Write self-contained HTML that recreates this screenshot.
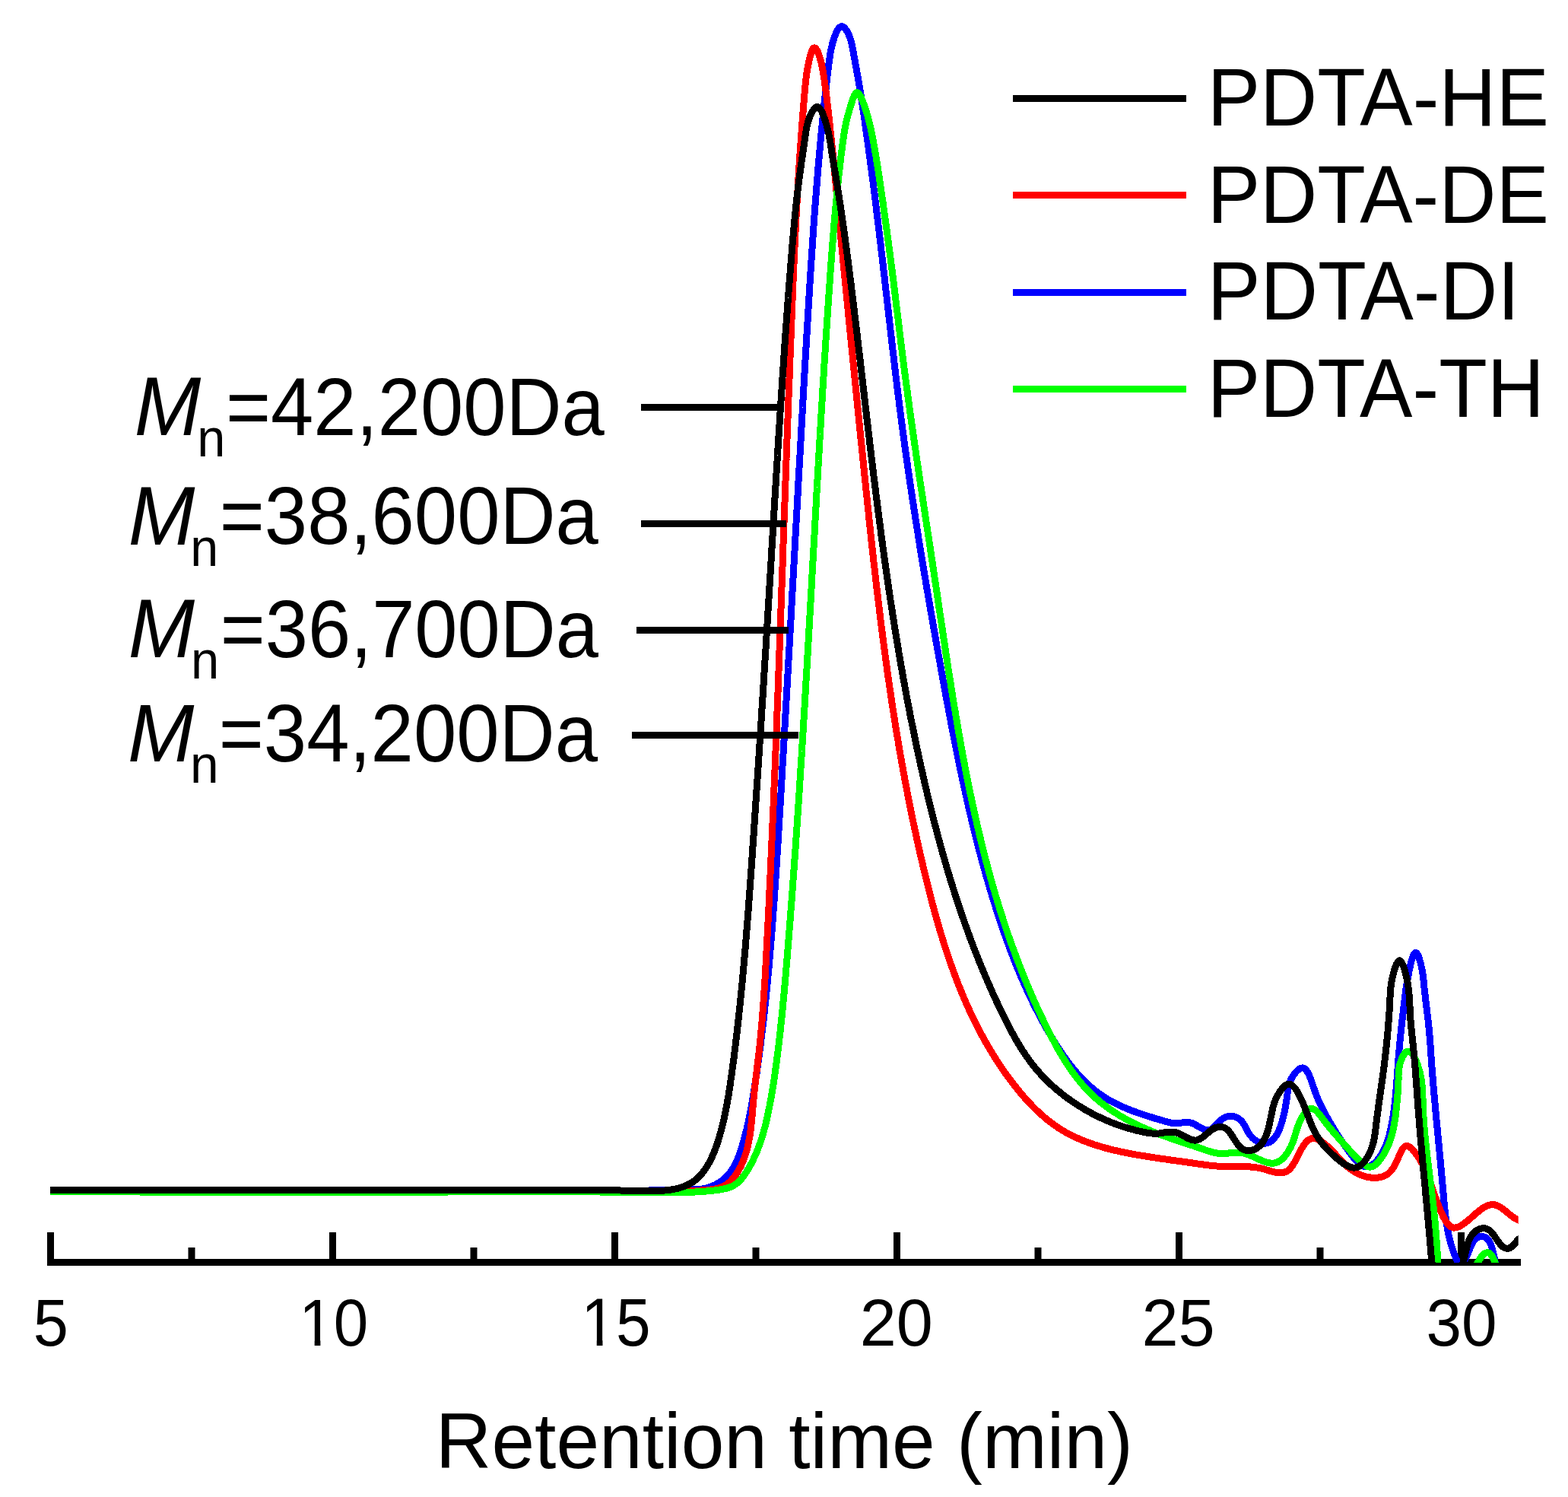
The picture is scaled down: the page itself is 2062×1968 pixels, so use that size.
<!DOCTYPE html>
<html><head><meta charset="utf-8"><title>GPC traces of PDTA samples</title>
<style>
html,body{margin:0;padding:0;background:#fff;}
body{width:2062px;height:1968px;overflow:hidden;}
svg{display:block;}
text{font-family:"Liberation Sans",Arial,Helvetica,sans-serif;fill:#000;}
</style></head><body>
<svg width="2062" height="1968" viewBox="0 0 2062 1968">
<rect x="0" y="0" width="2062" height="1968" fill="#fff"/>
<defs><clipPath id="cp"><rect x="0" y="0" width="1996.7" height="1660"/></clipPath></defs>
<g id="axis" fill="#000">
<rect x="62" y="1655" width="1938" height="9"/>
<rect x="62.0" y="1620" width="9" height="44"/>
<rect x="433.0" y="1620" width="9" height="44"/>
<rect x="804.0" y="1620" width="9" height="44"/>
<rect x="1175.0" y="1620" width="9" height="44"/>
<rect x="1546.0" y="1620" width="9" height="44"/>
<rect x="1917.0" y="1620" width="9" height="44"/>
<rect x="247.5" y="1640" width="9" height="24"/>
<rect x="618.5" y="1640" width="9" height="24"/>
<rect x="989.5" y="1640" width="9" height="24"/>
<rect x="1360.5" y="1640" width="9" height="24"/>
<rect x="1731.5" y="1640" width="9" height="24"/>
</g>
<g id="curves" fill="none" stroke-width="9" stroke-linejoin="round" shape-rendering="crispEdges" clip-path="url(#cp)">
<path d="M66.0 1564.7 L68.5 1564.7 71.0 1564.7 73.5 1564.7 76.0 1564.7 78.5 1564.7 81.0 1564.7 83.5 1564.7 86.0 1564.7 88.5 1564.7 91.0 1564.7 93.5 1564.7 96.0 1564.7 98.5 1564.7 101.0 1564.7 103.5 1564.7 106.0 1564.7 108.5 1564.7 111.0 1564.7 113.5 1564.7 116.0 1564.7 118.5 1564.7 121.0 1564.7 123.5 1564.7 126.0 1564.7 128.5 1564.7 131.0 1564.7 133.5 1564.7 136.0 1564.7 138.5 1564.8 141.0 1564.8 143.5 1564.8 146.0 1564.8 148.5 1564.8 151.0 1564.8 153.5 1564.8 156.0 1564.8 158.5 1564.8 161.0 1564.8 163.5 1564.8 166.0 1564.8 168.5 1564.8 171.0 1564.8 173.5 1564.8 176.0 1564.8 178.5 1564.8 181.0 1564.8 183.5 1564.8 186.0 1564.8 188.5 1564.9 191.0 1564.9 193.5 1564.9 196.0 1564.9 198.5 1564.9 201.0 1564.9 203.5 1564.9 206.0 1564.9 208.5 1564.9 211.0 1564.9 213.5 1564.9 216.0 1564.9 218.5 1564.9 221.0 1564.9 223.5 1564.9 226.0 1564.9 228.5 1564.9 231.0 1564.9 233.5 1565.0 236.0 1565.0 238.5 1565.0 241.0 1565.0 243.5 1565.0 246.0 1565.0 248.5 1565.0 251.0 1565.0 253.5 1565.0 256.0 1565.0 258.5 1565.0 261.0 1565.0 263.5 1565.0 266.0 1565.0 268.5 1565.0 271.0 1565.0 273.5 1565.0 276.0 1565.0 278.5 1565.1 281.0 1565.1 283.5 1565.1 286.0 1565.1 288.5 1565.1 291.0 1565.1 293.5 1565.1 296.0 1565.1 298.5 1565.1 301.0 1565.1 303.5 1565.1 306.0 1565.1 308.5 1565.1 311.0 1565.1 313.5 1565.1 316.0 1565.1 318.5 1565.1 321.0 1565.1 323.5 1565.1 326.0 1565.1 328.5 1565.1 331.0 1565.1 333.5 1565.1 336.0 1565.1 338.5 1565.2 341.0 1565.2 343.5 1565.2 346.0 1565.2 348.5 1565.2 351.0 1565.2 353.5 1565.2 356.0 1565.2 358.5 1565.2 361.0 1565.2 363.5 1565.2 366.0 1565.2 368.5 1565.2 371.0 1565.2 373.5 1565.2 376.0 1565.2 378.5 1565.2 381.0 1565.2 383.5 1565.2 386.0 1565.2 388.5 1565.2 391.0 1565.2 393.5 1565.2 396.0 1565.2 398.5 1565.2 401.0 1565.2 403.5 1565.2 406.0 1565.2 408.5 1565.2 411.0 1565.2 413.5 1565.2 416.0 1565.2 418.5 1565.2 421.0 1565.2 423.5 1565.2 426.0 1565.2 428.5 1565.2 431.0 1565.2 433.5 1565.2 436.0 1565.2 438.5 1565.2 441.0 1565.1 443.5 1565.1 446.0 1565.1 448.5 1565.1 451.0 1565.1 453.5 1565.1 456.0 1565.1 458.5 1565.1 461.0 1565.1 463.5 1565.1 466.0 1565.1 468.5 1565.1 471.0 1565.1 473.5 1565.1 476.0 1565.1 478.5 1565.1 481.0 1565.1 483.5 1565.1 486.0 1565.1 488.5 1565.1 491.0 1565.0 493.5 1565.0 496.0 1565.0 498.5 1565.0 501.0 1565.0 503.5 1565.0 506.0 1565.0 508.5 1565.0 511.0 1565.0 513.5 1565.0 516.0 1565.0 518.5 1565.0 521.0 1565.0 523.5 1565.0 526.0 1565.0 528.5 1565.0 531.0 1565.0 533.5 1564.9 536.0 1564.9 538.5 1564.9 541.0 1564.9 543.5 1564.9 546.0 1564.9 548.5 1564.9 551.0 1564.9 553.5 1564.9 556.0 1564.9 558.5 1564.9 561.0 1564.9 563.5 1564.9 566.0 1564.9 568.5 1564.9 571.0 1564.9 573.5 1564.9 576.0 1564.9 578.5 1564.8 581.0 1564.8 583.5 1564.8 586.0 1564.8 588.5 1564.8 591.0 1564.8 593.5 1564.8 596.0 1564.8 598.5 1564.8 601.0 1564.8 603.5 1564.8 606.0 1564.8 608.5 1564.8 611.0 1564.8 613.5 1564.8 616.0 1564.8 618.5 1564.8 621.0 1564.8 623.5 1564.8 626.0 1564.8 628.5 1564.8 631.0 1564.8 633.5 1564.8 636.0 1564.8 638.5 1564.8 641.0 1564.8 643.5 1564.8 646.0 1564.8 648.5 1564.8 651.0 1564.8 653.5 1564.8 656.0 1564.8 658.5 1564.8 661.0 1564.8 663.5 1564.8 666.0 1564.8 668.5 1564.8 671.0 1564.8 673.5 1564.8 676.0 1564.8 678.5 1564.8 681.0 1564.8 683.5 1564.8 686.0 1564.8 688.5 1564.9 691.0 1564.9 693.5 1564.9 696.0 1564.9 698.5 1564.9 701.0 1564.9 703.5 1564.9 706.0 1564.9 708.5 1564.9 711.0 1564.9 713.5 1564.9 716.0 1565.0 718.5 1565.0 721.0 1565.0 723.5 1565.0 726.0 1565.0 728.5 1565.0 731.0 1565.0 733.5 1565.0 736.0 1565.1 738.5 1565.1 741.0 1565.1 743.5 1565.1 746.0 1565.1 748.5 1565.1 751.0 1565.2 753.5 1565.2 756.0 1565.2 758.5 1565.2 761.0 1565.2 763.5 1565.2 766.0 1565.3 768.5 1565.3 771.0 1565.3 773.5 1565.3 776.0 1565.3 778.5 1565.4 781.0 1565.4 783.5 1565.4 786.0 1565.4 788.5 1565.4 791.0 1565.5 793.5 1565.5 796.0 1565.5 798.5 1565.5 801.0 1565.5 803.5 1565.5 806.0 1565.5 808.5 1565.5 811.0 1565.5 813.5 1565.5 816.0 1565.5 818.5 1565.5 821.0 1565.5 823.5 1565.5 826.0 1565.5 828.5 1565.4 830.9 1565.4 833.4 1565.4 835.9 1565.4 838.4 1565.3 840.9 1565.3 843.4 1565.2 845.8 1565.2 848.3 1565.1 850.8 1565.1 853.3 1565.0 855.8 1564.9 858.2 1564.9 860.7 1564.8 863.2 1564.7 865.7 1564.7 868.1 1564.6 870.6 1564.5 873.1 1564.4 875.6 1564.4 878.1 1564.3 880.6 1564.2 883.1 1564.2 885.6 1564.1 888.1 1564.1 890.7 1564.0 893.2 1564.0 895.8 1563.9 898.3 1563.9 900.9 1563.9 903.4 1563.9 906.0 1563.9 908.6 1563.9 911.2 1563.8 913.7 1563.8 916.3 1563.6 918.8 1563.4 921.3 1563.2 923.8 1562.9 926.3 1562.4 928.7 1561.9 931.1 1561.3 933.4 1560.5 935.8 1559.7 938.0 1558.7 940.2 1557.7 942.4 1556.6 944.5 1555.3 946.6 1554.0 948.6 1552.6 950.5 1551.1 952.4 1549.5 954.2 1547.8 955.9 1546.1 957.6 1544.3 959.2 1542.4 960.7 1540.5 962.1 1538.5 963.5 1536.4 964.8 1534.3 966.0 1532.1 967.1 1529.9 968.2 1527.7 969.2 1525.4 970.2 1523.1 971.1 1520.7 972.0 1518.4 972.8 1516.0 973.6 1513.6 974.4 1511.2 975.2 1508.7 976.0 1506.3 976.7 1503.9 977.4 1501.5 978.1 1499.1 978.8 1496.6 979.4 1494.2 980.1 1491.8 980.7 1489.3 981.3 1486.9 981.9 1484.5 982.5 1482.0 983.0 1479.6 983.6 1477.1 984.1 1474.7 984.7 1472.3 985.2 1469.8 985.7 1467.4 986.2 1464.9 986.6 1462.5 987.1 1460.0 987.6 1457.5 988.0 1455.1 988.5 1452.6 988.9 1450.2 989.3 1447.7 989.7 1445.2 990.1 1442.8 990.6 1440.3 991.0 1437.9 991.3 1435.4 991.7 1432.9 992.1 1430.5 992.5 1428.0 992.9 1425.5 993.2 1423.1 993.6 1420.6 994.0 1418.1 994.3 1415.7 994.7 1413.2 995.1 1410.7 995.4 1408.3 995.8 1405.8 996.1 1403.3 996.5 1400.8 996.8 1398.4 997.2 1395.9 997.5 1393.4 997.8 1391.0 998.2 1388.5 998.5 1386.0 998.8 1383.5 999.1 1381.1 999.5 1378.6 999.8 1376.1 1000.1 1373.6 1000.4 1371.2 1000.7 1368.7 1001.0 1366.2 1001.3 1363.7 1001.6 1361.2 1001.9 1358.8 1002.2 1356.3 1002.5 1353.8 1002.8 1351.3 1003.1 1348.9 1003.4 1346.4 1003.7 1343.9 1004.0 1341.4 1004.3 1338.9 1004.5 1336.4 1004.8 1334.0 1005.1 1331.5 1005.4 1329.0 1005.6 1326.5 1005.9 1324.0 1006.2 1321.6 1006.4 1319.1 1006.7 1316.6 1007.0 1314.1 1007.2 1311.6 1007.5 1309.1 1007.7 1306.6 1008.0 1304.2 1008.2 1301.7 1008.5 1299.2 1008.7 1296.7 1009.0 1294.2 1009.2 1291.7 1009.4 1289.2 1009.7 1286.8 1009.9 1284.3 1010.1 1281.8 1010.4 1279.3 1010.6 1276.8 1010.8 1274.3 1011.1 1271.8 1011.3 1269.3 1011.5 1266.9 1011.7 1264.4 1011.9 1261.9 1012.2 1259.4 1012.4 1256.9 1012.6 1254.4 1012.8 1251.9 1013.0 1249.4 1013.2 1246.9 1013.4 1244.4 1013.6 1241.9 1013.8 1239.5 1014.0 1237.0 1014.2 1234.5 1014.4 1232.0 1014.6 1229.5 1014.8 1227.0 1015.0 1224.5 1015.2 1222.0 1015.4 1219.5 1015.6 1217.0 1015.8 1214.5 1016.0 1212.0 1016.2 1209.5 1016.4 1207.0 1016.6 1204.6 1016.7 1202.1 1016.9 1199.6 1017.1 1197.1 1017.3 1194.6 1017.5 1192.1 1017.6 1189.6 1017.8 1187.1 1018.0 1184.6 1018.2 1182.1 1018.4 1179.6 1018.5 1177.1 1018.7 1174.6 1018.9 1172.1 1019.0 1169.6 1019.2 1167.1 1019.4 1164.6 1019.5 1162.1 1019.7 1159.6 1019.9 1157.1 1020.0 1154.6 1020.2 1152.2 1020.4 1149.7 1020.5 1147.2 1020.7 1144.7 1020.9 1142.2 1021.0 1139.7 1021.2 1137.2 1021.3 1134.7 1021.5 1132.2 1021.7 1129.7 1021.8 1127.2 1022.0 1124.7 1022.1 1122.2 1022.3 1119.7 1022.4 1117.2 1022.6 1114.7 1022.8 1112.2 1022.9 1109.7 1023.1 1107.2 1023.2 1104.7 1023.4 1102.2 1023.5 1099.7 1023.7 1097.2 1023.8 1094.7 1024.0 1092.2 1024.1 1089.7 1024.3 1087.2 1024.4 1084.7 1024.6 1082.2 1024.7 1079.7 1024.9 1077.2 1025.0 1074.7 1025.2 1072.2 1025.3 1069.7 1025.5 1067.2 1025.6 1064.7 1025.8 1062.3 1025.9 1059.8 1026.1 1057.3 1026.2 1054.8 1026.4 1052.3 1026.5 1049.8 1026.7 1047.3 1026.8 1044.8 1027.0 1042.3 1027.1 1039.8 1027.3 1037.3 1027.4 1034.8 1027.6 1032.3 1027.7 1029.8 1027.9 1027.3 1028.0 1024.8 1028.2 1022.3 1028.3 1019.8 1028.5 1017.3 1028.6 1014.8 1028.8 1012.3 1028.9 1009.8 1029.0 1007.3 1029.2 1004.8 1029.3 1002.3 1029.5 999.8 1029.6 997.3 1029.8 994.8 1029.9 992.3 1030.1 989.8 1030.2 987.3 1030.4 984.8 1030.5 982.3 1030.6 979.8 1030.8 977.4 1030.9 974.9 1031.1 972.4 1031.2 969.9 1031.4 967.4 1031.5 964.9 1031.7 962.4 1031.8 959.9 1031.9 957.4 1032.1 954.9 1032.2 952.4 1032.4 949.9 1032.5 947.4 1032.7 944.9 1032.8 942.4 1032.9 939.9 1033.1 937.4 1033.2 934.9 1033.4 932.4 1033.5 929.9 1033.7 927.4 1033.8 924.9 1033.9 922.4 1034.1 919.9 1034.2 917.4 1034.4 914.9 1034.5 912.4 1034.6 909.9 1034.8 907.4 1034.9 905.0 1035.1 902.5 1035.2 900.0 1035.4 897.5 1035.5 895.0 1035.6 892.5 1035.8 890.0 1035.9 887.5 1036.1 885.0 1036.2 882.5 1036.3 880.0 1036.5 877.5 1036.6 875.0 1036.8 872.5 1036.9 870.0 1037.0 867.5 1037.2 865.0 1037.3 862.5 1037.5 860.0 1037.6 857.5 1037.7 855.0 1037.9 852.5 1038.0 850.0 1038.2 847.5 1038.3 845.0 1038.4 842.5 1038.6 840.0 1038.7 837.5 1038.8 835.1 1039.0 832.6 1039.1 830.1 1039.3 827.6 1039.4 825.1 1039.5 822.6 1039.7 820.1 1039.8 817.6 1040.0 815.1 1040.1 812.6 1040.2 810.1 1040.4 807.6 1040.5 805.1 1040.7 802.6 1040.8 800.1 1040.9 797.6 1041.1 795.1 1041.2 792.6 1041.3 790.1 1041.5 787.6 1041.6 785.1 1041.8 782.6 1041.9 780.1 1042.0 777.6 1042.2 775.1 1042.3 772.6 1042.4 770.2 1042.6 767.7 1042.7 765.2 1042.9 762.7 1043.0 760.2 1043.1 757.7 1043.3 755.2 1043.4 752.7 1043.6 750.2 1043.7 747.7 1043.8 745.2 1044.0 742.7 1044.1 740.2 1044.2 737.7 1044.4 735.2 1044.5 732.7 1044.7 730.2 1044.8 727.7 1044.9 725.2 1045.1 722.7 1045.2 720.2 1045.3 717.7 1045.5 715.2 1045.6 712.7 1045.8 710.2 1045.9 707.8 1046.0 705.3 1046.2 702.8 1046.3 700.3 1046.4 697.8 1046.6 695.3 1046.7 692.8 1046.9 690.3 1047.0 687.8 1047.1 685.3 1047.3 682.8 1047.4 680.3 1047.5 677.8 1047.7 675.3 1047.8 672.8 1048.0 670.3 1048.1 667.8 1048.2 665.3 1048.4 662.8 1048.5 660.3 1048.6 657.8 1048.8 655.3 1048.9 652.8 1049.1 650.3 1049.2 647.9 1049.3 645.4 1049.5 642.9 1049.6 640.4 1049.8 637.9 1049.9 635.4 1050.0 632.9 1050.2 630.4 1050.3 627.9 1050.4 625.4 1050.6 622.9 1050.7 620.4 1050.9 617.9 1051.0 615.4 1051.1 612.9 1051.3 610.4 1051.4 607.9 1051.6 605.4 1051.7 602.9 1051.8 600.4 1052.0 597.9 1052.1 595.4 1052.3 592.9 1052.4 590.4 1052.5 587.9 1052.7 585.5 1052.8 583.0 1053.0 580.5 1053.1 578.0 1053.2 575.5 1053.4 573.0 1053.5 570.5 1053.7 568.0 1053.8 565.5 1053.9 563.0 1054.1 560.5 1054.2 558.0 1054.4 555.5 1054.5 553.0 1054.6 550.5 1054.8 548.0 1054.9 545.5 1055.1 543.0 1055.2 540.5 1055.3 538.0 1055.5 535.5 1055.6 533.0 1055.8 530.5 1055.9 528.0 1056.0 525.5 1056.2 523.0 1056.3 520.6 1056.5 518.1 1056.6 515.6 1056.8 513.1 1056.9 510.6 1057.0 508.1 1057.2 505.6 1057.3 503.1 1057.5 500.6 1057.6 498.1 1057.8 495.6 1057.9 493.1 1058.0 490.6 1058.2 488.1 1058.3 485.6 1058.5 483.1 1058.6 480.6 1058.8 478.1 1058.9 475.6 1059.0 473.1 1059.2 470.6 1059.3 468.1 1059.5 465.6 1059.6 463.1 1059.8 460.6 1059.9 458.1 1060.1 455.7 1060.2 453.2 1060.4 450.7 1060.5 448.2 1060.6 445.7 1060.8 443.2 1060.9 440.7 1061.1 438.2 1061.2 435.7 1061.4 433.2 1061.5 430.7 1061.7 428.2 1061.8 425.7 1062.0 423.2 1062.1 420.7 1062.3 418.2 1062.4 415.7 1062.6 413.2 1062.7 410.7 1062.9 408.2 1063.0 405.7 1063.2 403.2 1063.3 400.7 1063.5 398.2 1063.6 395.7 1063.8 393.2 1063.9 390.7 1064.1 388.3 1064.2 385.8 1064.4 383.3 1064.5 380.8 1064.7 378.3 1064.8 375.8 1065.0 373.3 1065.1 370.8 1065.3 368.3 1065.5 365.8 1065.6 363.3 1065.8 360.8 1065.9 358.3 1066.1 355.8 1066.2 353.3 1066.4 350.8 1066.6 348.3 1066.7 345.8 1066.9 343.3 1067.1 340.8 1067.2 338.3 1067.4 335.8 1067.6 333.3 1067.7 330.8 1067.9 328.4 1068.1 325.9 1068.2 323.4 1068.4 320.9 1068.6 318.4 1068.7 315.9 1068.9 313.4 1069.1 310.9 1069.2 308.4 1069.4 305.9 1069.6 303.4 1069.8 300.9 1069.9 298.4 1070.1 295.9 1070.3 293.4 1070.5 290.9 1070.7 288.4 1070.8 285.9 1071.0 283.4 1071.2 281.0 1071.4 278.5 1071.6 276.0 1071.8 273.5 1071.9 271.0 1072.1 268.5 1072.3 266.0 1072.5 263.5 1072.7 261.0 1072.9 258.5 1073.1 256.0 1073.3 253.5 1073.5 251.0 1073.7 248.5 1073.9 246.0 1074.1 243.6 1074.3 241.1 1074.5 238.6 1074.7 236.1 1074.9 233.6 1075.1 231.1 1075.3 228.6 1075.5 226.1 1075.7 223.6 1075.9 221.1 1076.1 218.6 1076.3 216.1 1076.6 213.6 1076.8 211.2 1077.0 208.7 1077.2 206.2 1077.4 203.7 1077.7 201.2 1077.9 198.7 1078.1 196.2 1078.3 193.7 1078.5 191.2 1078.8 188.7 1079.0 186.2 1079.2 183.8 1079.5 181.3 1079.7 178.8 1079.9 176.3 1080.2 173.8 1080.4 171.3 1080.7 168.8 1080.9 166.3 1081.1 163.8 1081.4 161.3 1081.6 158.9 1081.9 156.4 1082.1 153.9 1082.4 151.4 1082.6 148.9 1082.9 146.4 1083.1 143.9 1083.4 141.4 1083.7 138.9 1083.9 136.5 1084.2 134.0 1084.4 131.5 1084.7 129.0 1085.0 126.5 1085.2 124.0 1085.5 121.5 1085.8 119.1 1086.1 116.6 1086.3 114.1 1086.6 111.6 1086.9 109.1 1087.2 106.7 1087.5 104.2 1087.8 101.7 1088.1 99.3 1088.4 96.8 1088.7 94.3 1089.0 91.9 1089.3 89.4 1089.6 87.0 1089.9 84.5 1090.2 82.1 1090.6 79.7 1090.9 77.2 1091.2 74.8 1091.6 72.4 1092.0 69.9 1092.4 67.4 1092.9 64.9 1093.5 62.4 1094.1 59.8 1094.7 57.2 1095.5 54.6 1096.3 51.9 1097.2 49.1 1098.3 46.3 1099.4 43.6 1100.6 41.0 1101.9 38.7 1103.3 36.8 1104.7 35.5 1106.2 34.8 1107.8 34.8 1109.3 35.6 1110.9 37.0 1112.4 38.9 1113.9 41.1 1115.3 43.7 1116.5 46.4 1117.6 49.2 1118.5 51.9 1119.3 54.6 1120.0 57.3 1120.5 59.9 1121.0 62.5 1121.5 65.1 1122.0 67.7 1122.4 70.2 1122.9 72.7 1123.3 75.2 1123.8 77.7 1124.3 80.1 1124.7 82.5 1125.2 85.0 1125.6 87.4 1126.0 89.8 1126.5 92.2 1126.9 94.6 1127.3 97.0 1127.8 99.4 1128.2 101.8 1128.6 104.2 1129.0 106.7 1129.4 109.1 1129.9 111.5 1130.3 114.0 1130.7 116.4 1131.1 118.9 1131.5 121.3 1131.9 123.8 1132.2 126.2 1132.6 128.7 1133.0 131.2 1133.4 133.6 1133.8 136.1 1134.1 138.6 1134.5 141.1 1134.9 143.6 1135.3 146.0 1135.6 148.5 1136.0 151.0 1136.3 153.5 1136.7 156.0 1137.1 158.5 1137.4 161.0 1137.8 163.5 1138.1 166.0 1138.5 168.5 1138.8 171.0 1139.2 173.4 1139.5 175.9 1139.9 178.4 1140.2 180.9 1140.6 183.4 1140.9 185.9 1141.2 188.4 1141.6 190.9 1141.9 193.3 1142.3 195.8 1142.6 198.3 1142.9 200.8 1143.3 203.3 1143.6 205.7 1143.9 208.2 1144.3 210.7 1144.6 213.2 1144.9 215.7 1145.3 218.1 1145.6 220.6 1145.9 223.1 1146.2 225.6 1146.6 228.0 1146.9 230.5 1147.2 233.0 1147.5 235.5 1147.9 237.9 1148.2 240.4 1148.5 242.9 1148.8 245.4 1149.1 247.8 1149.4 250.3 1149.8 252.8 1150.1 255.3 1150.4 257.7 1150.7 260.2 1151.0 262.7 1151.3 265.2 1151.6 267.7 1151.9 270.1 1152.2 272.6 1152.5 275.1 1152.8 277.6 1153.1 280.0 1153.4 282.5 1153.7 285.0 1154.0 287.5 1154.3 290.0 1154.6 292.4 1154.9 294.9 1155.2 297.4 1155.5 299.9 1155.8 302.4 1156.1 304.8 1156.4 307.3 1156.7 309.8 1157.0 312.3 1157.3 314.8 1157.6 317.3 1157.9 319.7 1158.2 322.2 1158.5 324.7 1158.8 327.2 1159.0 329.7 1159.3 332.1 1159.6 334.6 1159.9 337.1 1160.2 339.6 1160.5 342.1 1160.8 344.6 1161.1 347.0 1161.3 349.5 1161.6 352.0 1161.9 354.5 1162.2 357.0 1162.5 359.5 1162.8 362.0 1163.1 364.4 1163.3 366.9 1163.6 369.4 1163.9 371.9 1164.2 374.4 1164.5 376.9 1164.8 379.3 1165.0 381.8 1165.3 384.3 1165.6 386.8 1165.9 389.3 1166.2 391.8 1166.5 394.3 1166.7 396.7 1167.0 399.2 1167.3 401.7 1167.6 404.2 1167.9 406.7 1168.2 409.2 1168.4 411.7 1168.7 414.1 1169.0 416.6 1169.3 419.1 1169.6 421.6 1169.9 424.1 1170.2 426.6 1170.4 429.1 1170.7 431.5 1171.0 434.0 1171.3 436.5 1171.6 439.0 1171.9 441.5 1172.2 444.0 1172.4 446.5 1172.7 448.9 1173.0 451.4 1173.3 453.9 1173.6 456.4 1173.9 458.9 1174.2 461.4 1174.5 463.9 1174.8 466.3 1175.1 468.8 1175.3 471.3 1175.6 473.8 1175.9 476.3 1176.2 478.8 1176.5 481.3 1176.8 483.7 1177.1 486.2 1177.4 488.7 1177.7 491.2 1178.0 493.7 1178.3 496.2 1178.6 498.6 1178.9 501.1 1179.2 503.6 1179.5 506.1 1179.8 508.6 1180.1 511.1 1180.4 513.5 1180.7 516.0 1181.0 518.5 1181.3 521.0 1181.7 523.5 1182.0 526.0 1182.3 528.4 1182.6 530.9 1182.9 533.4 1183.2 535.9 1183.5 538.4 1183.8 540.8 1184.2 543.3 1184.5 545.8 1184.8 548.3 1185.1 550.8 1185.4 553.2 1185.8 555.7 1186.1 558.2 1186.4 560.7 1186.8 563.2 1187.1 565.6 1187.4 568.1 1187.7 570.6 1188.1 573.1 1188.4 575.5 1188.7 578.0 1189.1 580.5 1189.4 583.0 1189.8 585.5 1190.1 587.9 1190.4 590.4 1190.8 592.9 1191.1 595.4 1191.5 597.8 1191.8 600.3 1192.2 602.8 1192.5 605.3 1192.9 607.7 1193.2 610.2 1193.6 612.7 1193.9 615.2 1194.3 617.6 1194.6 620.1 1195.0 622.6 1195.4 625.1 1195.7 627.5 1196.1 630.0 1196.4 632.5 1196.8 634.9 1197.2 637.4 1197.5 639.9 1197.9 642.4 1198.3 644.8 1198.6 647.3 1199.0 649.8 1199.4 652.2 1199.8 654.7 1200.1 657.2 1200.5 659.7 1200.9 662.1 1201.3 664.6 1201.6 667.1 1202.0 669.5 1202.4 672.0 1202.8 674.5 1203.2 676.9 1203.6 679.4 1203.9 681.9 1204.3 684.4 1204.7 686.8 1205.1 689.3 1205.5 691.8 1205.9 694.2 1206.3 696.7 1206.7 699.2 1207.1 701.6 1207.4 704.1 1207.8 706.6 1208.2 709.0 1208.6 711.5 1209.0 714.0 1209.4 716.4 1209.8 718.9 1210.2 721.4 1210.6 723.8 1211.0 726.3 1211.4 728.8 1211.8 731.2 1212.2 733.7 1212.6 736.2 1213.1 738.6 1213.5 741.1 1213.9 743.6 1214.3 746.0 1214.7 748.5 1215.1 751.0 1215.5 753.4 1215.9 755.9 1216.3 758.4 1216.8 760.8 1217.2 763.3 1217.6 765.7 1218.0 768.2 1218.4 770.7 1218.8 773.1 1219.3 775.6 1219.7 778.1 1220.1 780.5 1220.5 783.0 1220.9 785.5 1221.4 787.9 1221.8 790.4 1222.2 792.9 1222.6 795.3 1223.1 797.8 1223.5 800.2 1223.9 802.7 1224.3 805.2 1224.8 807.6 1225.2 810.1 1225.6 812.6 1226.1 815.0 1226.5 817.5 1226.9 819.9 1227.4 822.4 1227.8 824.9 1228.2 827.3 1228.7 829.8 1229.1 832.3 1229.5 834.7 1230.0 837.2 1230.4 839.6 1230.8 842.1 1231.3 844.6 1231.7 847.0 1232.1 849.5 1232.6 852.0 1233.0 854.4 1233.5 856.9 1233.9 859.3 1234.3 861.8 1234.8 864.3 1235.2 866.7 1235.7 869.2 1236.1 871.7 1236.6 874.1 1237.0 876.6 1237.5 879.0 1237.9 881.5 1238.3 884.0 1238.8 886.4 1239.2 888.9 1239.7 891.4 1240.1 893.8 1240.6 896.3 1241.0 898.7 1241.5 901.2 1241.9 903.7 1242.4 906.1 1242.8 908.6 1243.3 911.0 1243.7 913.5 1244.2 916.0 1244.7 918.4 1245.1 920.9 1245.6 923.4 1246.0 925.8 1246.5 928.3 1247.0 930.7 1247.4 933.2 1247.9 935.7 1248.3 938.1 1248.8 940.6 1249.3 943.0 1249.7 945.5 1250.2 947.9 1250.7 950.4 1251.1 952.9 1251.6 955.3 1252.1 957.8 1252.6 960.2 1253.0 962.7 1253.5 965.1 1254.0 967.6 1254.5 970.1 1255.0 972.5 1255.5 975.0 1255.9 977.4 1256.4 979.9 1256.9 982.3 1257.4 984.8 1257.9 987.2 1258.4 989.7 1258.9 992.1 1259.4 994.6 1259.9 997.0 1260.4 999.5 1260.9 1001.9 1261.4 1004.4 1261.9 1006.8 1262.4 1009.3 1262.9 1011.7 1263.5 1014.2 1264.0 1016.6 1264.5 1019.1 1265.0 1021.5 1265.5 1024.0 1266.1 1026.4 1266.6 1028.9 1267.1 1031.3 1267.6 1033.8 1268.2 1036.2 1268.7 1038.6 1269.3 1041.1 1269.8 1043.5 1270.3 1046.0 1270.9 1048.4 1271.4 1050.8 1272.0 1053.3 1272.5 1055.7 1273.1 1058.1 1273.7 1060.6 1274.2 1063.0 1274.8 1065.5 1275.4 1067.9 1275.9 1070.3 1276.5 1072.7 1277.1 1075.2 1277.7 1077.6 1278.2 1080.0 1278.8 1082.5 1279.4 1084.9 1280.0 1087.3 1280.6 1089.8 1281.2 1092.2 1281.8 1094.6 1282.4 1097.0 1283.0 1099.4 1283.6 1101.9 1284.2 1104.3 1284.8 1106.7 1285.5 1109.1 1286.1 1111.6 1286.7 1114.0 1287.3 1116.4 1288.0 1118.8 1288.6 1121.2 1289.2 1123.6 1289.9 1126.0 1290.5 1128.5 1291.2 1130.9 1291.8 1133.3 1292.5 1135.7 1293.2 1138.1 1293.8 1140.5 1294.5 1142.9 1295.2 1145.3 1295.8 1147.7 1296.5 1150.1 1297.2 1152.5 1297.9 1154.9 1298.6 1157.3 1299.3 1159.7 1300.0 1162.1 1300.7 1164.5 1301.4 1166.9 1302.1 1169.3 1302.8 1171.7 1303.5 1174.1 1304.3 1176.5 1305.0 1178.9 1305.7 1181.2 1306.5 1183.6 1307.2 1186.0 1308.0 1188.4 1308.7 1190.8 1309.5 1193.2 1310.2 1195.5 1311.0 1197.9 1311.8 1200.3 1312.5 1202.7 1313.3 1205.0 1314.1 1207.4 1314.9 1209.8 1315.7 1212.2 1316.5 1214.5 1317.3 1216.9 1318.1 1219.3 1318.9 1221.6 1319.7 1224.0 1320.5 1226.4 1321.3 1228.7 1322.2 1231.1 1323.0 1233.4 1323.9 1235.8 1324.7 1238.1 1325.6 1240.5 1326.4 1242.8 1327.3 1245.2 1328.2 1247.5 1329.0 1249.8 1329.9 1252.2 1330.8 1254.5 1331.7 1256.8 1332.6 1259.2 1333.5 1261.5 1334.4 1263.8 1335.4 1266.1 1336.3 1268.5 1337.2 1270.8 1338.2 1273.1 1339.1 1275.4 1340.1 1277.7 1341.1 1280.0 1342.0 1282.3 1343.0 1284.6 1344.0 1286.9 1345.0 1289.2 1346.0 1291.5 1347.0 1293.8 1348.0 1296.0 1349.0 1298.3 1350.1 1300.6 1351.1 1302.9 1352.2 1305.1 1353.2 1307.4 1354.3 1309.7 1355.3 1311.9 1356.4 1314.2 1357.5 1316.4 1358.6 1318.7 1359.7 1320.9 1360.8 1323.1 1362.0 1325.4 1363.1 1327.6 1364.2 1329.8 1365.4 1332.0 1366.5 1334.3 1367.7 1336.5 1368.9 1338.7 1370.1 1340.9 1371.3 1343.1 1372.5 1345.3 1373.7 1347.5 1374.9 1349.6 1376.1 1351.8 1377.4 1354.0 1378.6 1356.2 1379.9 1358.3 1381.2 1360.5 1382.4 1362.7 1383.7 1364.8 1385.0 1367.0 1386.4 1369.1 1387.7 1371.2 1389.0 1373.4 1390.4 1375.5 1391.7 1377.6 1393.1 1379.7 1394.5 1381.8 1395.9 1383.9 1397.3 1385.9 1398.7 1388.0 1400.1 1390.1 1401.6 1392.1 1403.1 1394.1 1404.5 1396.1 1406.0 1398.1 1407.6 1400.1 1409.1 1402.1 1410.6 1404.0 1412.2 1405.9 1413.8 1407.9 1415.4 1409.7 1417.0 1411.6 1418.7 1413.5 1420.4 1415.3 1422.0 1417.1 1423.8 1418.9 1425.5 1420.6 1427.2 1422.4 1429.0 1424.1 1430.8 1425.8 1432.6 1427.4 1434.5 1429.0 1436.4 1430.6 1438.3 1432.2 1440.2 1433.8 1442.1 1435.3 1444.1 1436.8 1446.1 1438.2 1448.1 1439.6 1450.2 1441.0 1452.3 1442.4 1454.4 1443.7 1456.5 1445.0 1458.7 1446.2 1460.8 1447.5 1463.1 1448.6 1465.3 1449.8 1467.5 1450.9 1469.8 1452.1 1472.1 1453.1 1474.4 1454.2 1476.7 1455.2 1479.0 1456.2 1481.4 1457.2 1483.7 1458.2 1486.1 1459.1 1488.5 1460.1 1490.9 1461.0 1493.3 1461.8 1495.7 1462.7 1498.1 1463.5 1500.5 1464.4 1502.9 1465.2 1505.3 1466.0 1507.8 1466.8 1510.2 1467.5 1512.6 1468.3 1515.0 1469.0 1517.4 1469.8 1519.8 1470.5 1522.3 1471.2 1524.6 1471.9 1527.0 1472.6 1529.4 1473.3 1531.8 1474.0 1534.1 1474.7 1536.5 1475.3 1538.9 1475.9 1541.2 1476.4 1543.6 1476.7 1546.0 1476.9 1548.4 1476.8 1550.9 1476.5 1553.4 1476.1 1555.9 1475.7 1558.4 1475.4 1560.9 1475.2 1563.3 1475.4 1565.8 1476.0 1568.2 1476.8 1570.6 1477.9 1572.9 1479.2 1575.3 1480.5 1577.6 1481.9 1579.9 1483.1 1582.2 1484.2 1584.5 1485.0 1586.8 1485.5 1589.0 1485.6 1591.1 1485.2 1593.2 1484.3 1595.2 1482.9 1597.1 1481.2 1599.0 1479.2 1601.0 1477.1 1602.9 1475.1 1604.9 1473.1 1607.0 1471.4 1609.2 1469.9 1611.4 1468.8 1613.6 1468.0 1615.9 1467.5 1618.1 1467.2 1620.4 1467.3 1622.6 1467.7 1624.8 1468.4 1626.9 1469.4 1629.0 1470.6 1630.9 1472.2 1632.8 1474.0 1634.4 1476.1 1636.0 1478.5 1637.5 1481.1 1638.9 1483.8 1640.3 1486.4 1641.8 1489.1 1643.4 1491.6 1645.2 1493.8 1647.1 1495.8 1649.1 1497.6 1651.2 1499.2 1653.3 1500.5 1655.5 1501.5 1657.7 1502.3 1659.9 1502.8 1662.0 1503.1 1664.0 1503.1 1665.9 1502.8 1667.8 1502.3 1669.5 1501.5 1671.2 1500.5 1672.8 1499.2 1674.3 1497.8 1675.8 1496.2 1677.2 1494.4 1678.5 1492.5 1679.7 1490.4 1680.9 1488.1 1682.0 1485.7 1683.0 1483.3 1684.0 1480.7 1684.9 1478.0 1685.8 1475.3 1686.6 1472.5 1687.3 1469.6 1688.0 1466.8 1688.7 1463.8 1689.3 1460.9 1689.9 1458.0 1690.4 1455.1 1690.9 1452.3 1691.4 1449.4 1691.8 1446.7 1692.2 1444.0 1692.6 1441.4 1692.9 1438.8 1693.2 1436.4 1693.5 1434.1 1693.9 1431.8 1694.3 1429.6 1694.7 1427.5 1695.3 1425.3 1696.0 1423.2 1696.8 1421.0 1697.8 1418.9 1699.0 1416.6 1700.4 1414.4 1702.0 1412.1 1703.8 1409.9 1705.7 1407.8 1707.6 1406.1 1709.5 1404.8 1711.3 1404.1 1713.1 1403.9 1714.7 1404.4 1716.3 1405.4 1717.7 1406.8 1719.0 1408.6 1720.3 1410.8 1721.5 1413.3 1722.7 1416.0 1723.8 1418.9 1724.9 1421.9 1725.9 1424.9 1726.9 1428.0 1727.9 1430.9 1728.9 1433.8 1729.9 1436.5 1730.8 1439.1 1731.8 1441.6 1732.8 1444.0 1733.8 1446.3 1734.8 1448.5 1735.8 1450.7 1736.8 1452.8 1737.8 1454.9 1738.8 1456.9 1739.8 1458.9 1740.9 1460.9 1741.9 1462.9 1743.0 1464.9 1744.1 1466.9 1745.2 1468.9 1746.3 1470.9 1747.5 1473.0 1748.6 1475.0 1749.8 1477.0 1751.0 1479.1 1752.3 1481.1 1753.5 1483.2 1754.8 1485.3 1756.1 1487.4 1757.4 1489.5 1758.7 1491.6 1760.1 1493.7 1761.5 1495.8 1762.9 1498.0 1764.4 1500.2 1765.9 1502.3 1767.4 1504.5 1768.9 1506.7 1770.5 1508.9 1772.1 1511.2 1773.7 1513.4 1775.4 1515.7 1777.1 1518.0 1778.8 1520.2 1780.6 1522.5 1782.4 1524.6 1784.2 1526.6 1786.0 1528.4 1787.9 1530.1 1789.8 1531.5 1791.7 1532.6 1793.6 1533.4 1795.5 1533.9 1797.4 1534.0 1799.4 1533.7 1801.3 1533.1 1803.2 1532.1 1805.1 1530.9 1807.0 1529.5 1808.8 1527.8 1810.5 1526.0 1812.1 1524.0 1813.7 1522.0 1815.2 1519.8 1816.6 1517.7 1817.9 1515.5 1819.1 1513.2 1820.3 1511.0 1821.3 1508.7 1822.3 1506.3 1823.3 1503.9 1824.1 1501.6 1824.9 1499.1 1825.7 1496.7 1826.4 1494.3 1827.1 1491.8 1827.7 1489.3 1828.3 1486.9 1828.8 1484.4 1829.4 1481.9 1829.9 1479.4 1830.3 1477.0 1830.8 1474.5 1831.2 1472.0 1831.6 1469.6 1832.0 1467.1 1832.4 1464.7 1832.8 1462.2 1833.1 1459.7 1833.4 1457.3 1833.7 1454.8 1834.0 1452.4 1834.3 1449.9 1834.6 1447.5 1834.8 1445.0 1835.1 1442.6 1835.3 1440.1 1835.5 1437.6 1835.8 1435.2 1836.0 1432.7 1836.2 1430.3 1836.4 1427.8 1836.5 1425.3 1836.7 1422.9 1836.9 1420.4 1837.1 1417.9 1837.3 1415.4 1837.4 1413.0 1837.6 1410.5 1837.8 1408.0 1838.0 1405.5 1838.1 1403.0 1838.3 1400.5 1838.5 1398.0 1838.7 1395.4 1838.9 1392.9 1839.1 1390.4 1839.3 1387.9 1839.5 1385.3 1839.7 1382.8 1840.0 1380.2 1840.2 1377.7 1840.4 1375.2 1840.7 1372.6 1840.9 1370.1 1841.2 1367.5 1841.4 1365.0 1841.7 1362.4 1841.9 1359.9 1842.2 1357.4 1842.5 1354.9 1842.7 1352.4 1843.0 1349.8 1843.3 1347.3 1843.6 1344.9 1843.8 1342.4 1844.1 1339.9 1844.4 1337.5 1844.7 1335.0 1845.0 1332.6 1845.2 1330.2 1845.5 1327.8 1845.8 1325.4 1846.1 1323.0 1846.4 1320.7 1846.6 1318.3 1846.9 1316.0 1847.2 1313.7 1847.5 1311.4 1847.8 1309.1 1848.1 1306.8 1848.4 1304.5 1848.7 1302.2 1849.0 1299.8 1849.4 1297.3 1849.8 1294.8 1850.2 1292.3 1850.6 1289.6 1851.1 1286.9 1851.6 1284.1 1852.2 1281.1 1852.8 1278.1 1853.4 1274.9 1854.1 1271.7 1854.8 1268.5 1855.6 1265.3 1856.4 1262.4 1857.2 1259.6 1858.1 1257.2 1858.9 1255.2 1859.8 1253.7 1860.7 1252.8 1861.7 1252.4 1862.6 1252.8 1863.5 1253.8 1864.5 1255.3 1865.4 1257.3 1866.3 1259.7 1867.1 1262.5 1868.0 1265.4 1868.7 1268.5 1869.4 1271.7 1870.1 1274.9 1870.6 1277.9 1871.1 1280.9 1871.5 1283.7 1871.8 1286.4 1872.1 1288.9 1872.4 1291.4 1872.6 1293.9 1872.8 1296.3 1873.0 1298.7 1873.3 1301.2 1873.5 1303.6 1873.8 1306.0 1874.1 1308.4 1874.3 1310.9 1874.6 1313.3 1874.9 1315.7 1875.2 1318.2 1875.5 1320.6 1875.8 1323.1 1876.1 1325.5 1876.4 1328.0 1876.7 1330.5 1877.0 1332.9 1877.3 1335.4 1877.6 1337.9 1877.9 1340.3 1878.2 1342.8 1878.4 1345.3 1878.7 1347.8 1879.0 1350.2 1879.2 1352.7 1879.5 1355.2 1879.7 1357.7 1879.9 1360.2 1880.1 1362.7 1880.3 1365.2 1880.5 1367.7 1880.7 1370.2 1880.9 1372.7 1881.1 1375.2 1881.2 1377.7 1881.4 1380.2 1881.6 1382.7 1881.7 1385.2 1881.9 1387.7 1882.1 1390.2 1882.3 1392.8 1882.4 1395.3 1882.6 1397.8 1882.8 1400.3 1883.0 1402.8 1883.2 1405.3 1883.4 1407.8 1883.6 1410.2 1883.8 1412.7 1884.0 1415.2 1884.2 1417.7 1884.4 1420.2 1884.6 1422.7 1884.8 1425.2 1885.0 1427.7 1885.2 1430.2 1885.4 1432.7 1885.6 1435.2 1885.8 1437.7 1886.1 1440.1 1886.3 1442.6 1886.5 1445.1 1886.7 1447.6 1887.0 1450.1 1887.2 1452.6 1887.4 1455.1 1887.6 1457.5 1887.9 1460.0 1888.1 1462.5 1888.3 1465.0 1888.6 1467.5 1888.8 1470.0 1889.0 1472.4 1889.3 1474.9 1889.5 1477.4 1889.7 1479.9 1890.0 1482.4 1890.2 1484.9 1890.5 1487.3 1890.7 1489.8 1890.9 1492.3 1891.2 1494.8 1891.4 1497.3 1891.6 1499.8 1891.9 1502.2 1892.1 1504.7 1892.4 1507.2 1892.6 1509.7 1892.8 1512.2 1893.1 1514.7 1893.3 1517.1 1893.5 1519.6 1893.8 1522.1 1894.0 1524.6 1894.3 1527.1 1894.5 1529.6 1894.7 1532.1 1894.9 1534.6 1895.2 1537.1 1895.4 1539.5 1895.6 1542.0 1895.9 1544.5 1896.1 1547.0 1896.3 1549.5 1896.5 1552.0 1896.8 1554.5 1897.0 1557.0 1897.2 1559.5 1897.4 1562.0 1897.6 1564.5 1897.8 1567.0 1898.1 1569.5 1898.3 1572.0 1898.5 1574.5 1898.7 1577.0 1898.9 1579.5 1899.2 1582.0 1899.4 1584.5 1899.6 1587.0 1899.9 1589.5 1900.2 1592.0 1900.4 1594.5 1900.7 1597.0 1901.0 1599.5 1901.4 1602.0 1901.7 1604.5 1902.1 1606.9 1902.5 1609.4 1902.9 1611.9 1903.3 1614.4 1903.7 1616.8 1904.2 1619.3 1904.7 1621.8 1905.3 1624.2 1905.8 1626.7 1906.4 1629.1 1907.0 1631.6 1907.7 1634.0 1908.4 1636.5 1909.1 1638.9 1909.9 1641.3 1910.7 1643.7 1911.5 1646.1 1912.4 1648.5 1913.4 1650.9 1914.3 1653.3 1915.4 1655.6 1916.5 1657.7 1917.6 1659.5 1918.9 1660.7 1920.2 1661.2 1921.6 1661.0 1923.1 1660.1 1924.6 1658.5 1926.1 1656.5 1927.6 1654.0 1928.9 1651.2 1930.3 1648.2 1931.5 1645.2 1932.7 1642.2 1933.9 1639.2 1935.1 1636.5 1936.4 1633.9 1937.8 1631.6 1939.3 1629.6 1941.1 1628.0 1943.0 1626.7 1945.0 1625.9 1947.0 1625.5 1949.1 1625.4 1951.1 1625.8 1953.1 1626.5 1954.8 1627.6 1956.4 1629.1 1957.8 1630.9 1959.1 1633.0 1960.2 1635.3 1961.2 1637.8 1962.0 1640.5 1962.8 1643.2 1963.5 1646.1 1964.2 1648.9 1964.8 1651.7 1965.3 1654.4 1965.8 1657.2 1966.4 1659.8 1966.9 1662.5 1967.3 1665.1 1967.8 1667.7 1968.4 1670.2 1968.9 1672.7 1969.4 1675.1 1970.0 1677.5 1970.7 1679.9 1971.4 1682.2 1972.1 1684.4 1973.0 1686.6 1973.9 1688.7 1974.9 1690.8 1976.0 1692.8 1977.1 1694.8 1978.4 1696.7 1979.9 1698.5 1981.4 1700.3 1983.1 1702.0 1984.9 1703.6 1986.9 1705.2 1989.1 1706.7 1991.4 1708.1 1993.9 1709.4 1996.5 1710.7" stroke="#0000ff"/>
<path d="M66.0 1564.8 L68.5 1564.8 71.0 1564.8 73.5 1564.8 76.0 1564.9 78.5 1564.9 81.0 1564.9 83.5 1564.9 86.0 1564.9 88.5 1564.9 91.0 1564.9 93.5 1565.0 96.0 1565.0 98.5 1565.0 101.0 1565.0 103.5 1565.0 106.0 1565.0 108.5 1565.0 111.0 1565.0 113.5 1565.1 116.0 1565.1 118.5 1565.1 121.0 1565.1 123.5 1565.1 126.0 1565.1 128.5 1565.1 131.0 1565.1 133.5 1565.1 136.0 1565.2 138.5 1565.2 141.0 1565.2 143.5 1565.2 146.0 1565.2 148.5 1565.2 151.0 1565.2 153.5 1565.2 156.0 1565.2 158.5 1565.2 161.0 1565.2 163.5 1565.3 166.0 1565.3 168.5 1565.3 171.0 1565.3 173.5 1565.3 176.0 1565.3 178.5 1565.3 181.0 1565.3 183.5 1565.3 186.0 1565.3 188.5 1565.3 191.0 1565.3 193.5 1565.3 196.0 1565.3 198.5 1565.3 201.0 1565.4 203.5 1565.4 206.0 1565.4 208.5 1565.4 211.0 1565.4 213.5 1565.4 216.0 1565.4 218.5 1565.4 221.0 1565.4 223.5 1565.4 226.0 1565.4 228.5 1565.4 231.0 1565.4 233.5 1565.4 236.0 1565.4 238.5 1565.4 241.0 1565.4 243.6 1565.4 246.1 1565.4 248.6 1565.4 251.1 1565.4 253.6 1565.4 256.1 1565.4 258.6 1565.4 261.1 1565.4 263.6 1565.4 266.1 1565.4 268.6 1565.4 271.1 1565.4 273.6 1565.5 276.1 1565.5 278.6 1565.5 281.1 1565.5 283.6 1565.5 286.1 1565.5 288.6 1565.5 291.1 1565.5 293.6 1565.5 296.1 1565.5 298.6 1565.5 301.1 1565.5 303.6 1565.5 306.1 1565.5 308.6 1565.5 311.1 1565.5 313.6 1565.5 316.1 1565.5 318.6 1565.5 321.1 1565.5 323.6 1565.5 326.1 1565.5 328.6 1565.5 331.1 1565.5 333.6 1565.5 336.1 1565.5 338.6 1565.5 341.1 1565.5 343.6 1565.5 346.1 1565.5 348.6 1565.5 351.1 1565.4 353.6 1565.4 356.1 1565.4 358.6 1565.4 361.1 1565.4 363.6 1565.4 366.1 1565.4 368.6 1565.4 371.1 1565.4 373.6 1565.4 376.1 1565.4 378.6 1565.4 381.1 1565.4 383.6 1565.4 386.1 1565.4 388.6 1565.4 391.1 1565.4 393.6 1565.4 396.1 1565.4 398.6 1565.4 401.1 1565.4 403.6 1565.4 406.1 1565.4 408.6 1565.4 411.1 1565.4 413.6 1565.4 416.1 1565.4 418.6 1565.4 421.1 1565.4 423.6 1565.4 426.1 1565.4 428.6 1565.4 431.1 1565.4 433.6 1565.4 436.1 1565.4 438.6 1565.4 441.1 1565.4 443.6 1565.4 446.1 1565.4 448.6 1565.4 451.1 1565.4 453.6 1565.3 456.1 1565.3 458.6 1565.3 461.1 1565.3 463.6 1565.3 466.1 1565.3 468.6 1565.3 471.1 1565.3 473.6 1565.3 476.1 1565.3 478.6 1565.3 481.1 1565.3 483.6 1565.3 486.1 1565.3 488.6 1565.3 491.1 1565.3 493.6 1565.3 496.1 1565.3 498.6 1565.3 501.1 1565.3 503.6 1565.3 506.1 1565.3 508.6 1565.3 511.1 1565.3 513.6 1565.3 516.1 1565.3 518.6 1565.3 521.1 1565.3 523.6 1565.3 526.1 1565.3 528.6 1565.3 531.1 1565.3 533.6 1565.3 536.1 1565.2 538.6 1565.2 541.1 1565.2 543.6 1565.2 546.1 1565.2 548.6 1565.2 551.1 1565.2 553.6 1565.2 556.1 1565.2 558.6 1565.2 561.1 1565.2 563.6 1565.2 566.1 1565.2 568.6 1565.2 571.1 1565.2 573.6 1565.2 576.1 1565.2 578.6 1565.2 581.1 1565.2 583.6 1565.2 586.1 1565.2 588.6 1565.2 591.1 1565.2 593.6 1565.2 596.1 1565.2 598.6 1565.2 601.1 1565.2 603.6 1565.2 606.1 1565.2 608.6 1565.2 611.1 1565.2 613.6 1565.2 616.1 1565.2 618.6 1565.2 621.1 1565.2 623.6 1565.2 626.1 1565.2 628.6 1565.2 631.1 1565.2 633.6 1565.2 636.1 1565.2 638.6 1565.2 641.1 1565.2 643.6 1565.2 646.1 1565.2 648.6 1565.2 651.1 1565.2 653.6 1565.2 656.1 1565.2 658.6 1565.2 661.1 1565.2 663.6 1565.2 666.1 1565.2 668.6 1565.2 671.1 1565.2 673.6 1565.2 676.1 1565.2 678.6 1565.2 681.1 1565.2 683.6 1565.2 686.1 1565.2 688.6 1565.2 691.1 1565.2 693.6 1565.2 696.1 1565.2 698.6 1565.2 701.1 1565.2 703.6 1565.2 706.1 1565.2 708.6 1565.2 711.1 1565.2 713.7 1565.2 716.2 1565.2 718.7 1565.2 721.2 1565.2 723.7 1565.2 726.2 1565.3 728.7 1565.3 731.2 1565.3 733.7 1565.3 736.2 1565.3 738.7 1565.3 741.2 1565.3 743.7 1565.3 746.2 1565.3 748.7 1565.3 751.2 1565.3 753.7 1565.3 756.2 1565.3 758.7 1565.3 761.2 1565.3 763.7 1565.3 766.2 1565.4 768.7 1565.4 771.2 1565.4 773.7 1565.4 776.2 1565.4 778.7 1565.4 781.2 1565.4 783.7 1565.4 786.2 1565.4 788.7 1565.4 791.2 1565.4 793.7 1565.5 796.2 1565.5 798.6 1565.5 801.1 1565.5 803.6 1565.5 806.1 1565.5 808.6 1565.5 811.1 1565.5 813.6 1565.6 816.1 1565.6 818.6 1565.6 821.1 1565.6 823.6 1565.6 826.1 1565.6 828.6 1565.6 831.1 1565.7 833.6 1565.7 836.1 1565.7 838.6 1565.7 841.0 1565.7 843.5 1565.7 846.0 1565.8 848.5 1565.8 851.0 1565.8 853.5 1565.8 856.0 1565.8 858.5 1565.9 861.0 1565.9 863.5 1565.9 865.9 1565.9 868.4 1565.9 870.9 1565.9 873.4 1565.9 875.9 1565.9 878.4 1565.9 880.9 1565.9 883.4 1565.9 885.9 1565.9 888.4 1565.9 891.0 1565.9 893.5 1565.8 896.0 1565.8 898.5 1565.7 901.0 1565.7 903.6 1565.6 906.1 1565.6 908.7 1565.5 911.2 1565.4 913.8 1565.3 916.3 1565.2 918.9 1565.1 921.4 1565.0 924.0 1564.8 926.6 1564.7 929.2 1564.5 931.7 1564.3 934.3 1564.0 936.8 1563.7 939.3 1563.3 941.7 1562.8 944.1 1562.2 946.5 1561.5 948.8 1560.7 951.0 1559.7 953.1 1558.6 955.1 1557.3 957.1 1555.9 959.0 1554.4 960.8 1552.7 962.5 1550.9 964.1 1549.0 965.7 1547.1 967.2 1545.0 968.6 1542.9 970.0 1540.8 971.3 1538.6 972.5 1536.4 973.7 1534.2 974.8 1532.0 975.8 1529.7 976.8 1527.4 977.7 1525.1 978.6 1522.8 979.4 1520.5 980.2 1518.2 981.0 1515.8 981.7 1513.4 982.3 1511.0 982.9 1508.6 983.5 1506.2 984.0 1503.8 984.6 1501.4 985.0 1498.9 985.5 1496.5 985.9 1494.0 986.3 1491.5 986.6 1489.0 987.0 1486.5 987.3 1484.1 987.6 1481.6 987.9 1479.0 988.1 1476.5 988.4 1474.0 988.6 1471.5 988.8 1469.0 989.1 1466.5 989.3 1463.9 989.5 1461.4 989.7 1458.9 989.9 1456.4 990.2 1453.9 990.4 1451.3 990.6 1448.8 990.9 1446.3 991.1 1443.8 991.4 1441.3 991.6 1438.8 991.9 1436.3 992.1 1433.8 992.4 1431.3 992.7 1428.8 993.0 1426.3 993.3 1423.9 993.6 1421.4 993.9 1418.9 994.1 1416.4 994.4 1413.9 994.7 1411.5 995.0 1409.0 995.3 1406.5 995.6 1404.0 995.9 1401.6 996.2 1399.1 996.5 1396.6 996.8 1394.1 997.1 1391.7 997.4 1389.2 997.7 1386.7 998.0 1384.3 998.3 1381.8 998.5 1379.3 998.8 1376.8 999.1 1374.4 999.3 1371.9 999.6 1369.4 999.8 1366.9 1000.1 1364.4 1000.3 1362.0 1000.6 1359.5 1000.8 1357.0 1001.0 1354.5 1001.3 1352.0 1001.5 1349.5 1001.7 1347.1 1001.9 1344.6 1002.1 1342.1 1002.3 1339.6 1002.5 1337.1 1002.7 1334.6 1002.9 1332.1 1003.1 1329.6 1003.3 1327.1 1003.5 1324.7 1003.7 1322.2 1003.9 1319.7 1004.0 1317.2 1004.2 1314.7 1004.4 1312.2 1004.5 1309.7 1004.7 1307.2 1004.9 1304.7 1005.0 1302.2 1005.2 1299.7 1005.3 1297.2 1005.5 1294.7 1005.7 1292.2 1005.8 1289.7 1006.0 1287.2 1006.1 1284.7 1006.2 1282.2 1006.4 1279.7 1006.5 1277.2 1006.7 1274.7 1006.8 1272.2 1007.0 1269.7 1007.1 1267.2 1007.2 1264.7 1007.4 1262.2 1007.5 1259.7 1007.6 1257.2 1007.8 1254.7 1007.9 1252.2 1008.0 1249.7 1008.2 1247.2 1008.3 1244.7 1008.4 1242.2 1008.6 1239.7 1008.7 1237.2 1008.8 1234.7 1008.9 1232.2 1009.1 1229.7 1009.2 1227.2 1009.3 1224.7 1009.5 1222.2 1009.6 1219.7 1009.7 1217.2 1009.8 1214.7 1010.0 1212.2 1010.1 1209.7 1010.2 1207.2 1010.3 1204.7 1010.5 1202.2 1010.6 1199.7 1010.7 1197.2 1010.8 1194.7 1011.0 1192.2 1011.1 1189.7 1011.2 1187.2 1011.3 1184.7 1011.4 1182.2 1011.6 1179.7 1011.7 1177.2 1011.8 1174.7 1011.9 1172.2 1012.0 1169.7 1012.2 1167.2 1012.3 1164.7 1012.4 1162.2 1012.5 1159.7 1012.6 1157.2 1012.8 1154.8 1012.9 1152.3 1013.0 1149.8 1013.1 1147.3 1013.2 1144.8 1013.3 1142.3 1013.5 1139.8 1013.6 1137.3 1013.7 1134.8 1013.8 1132.3 1013.9 1129.8 1014.0 1127.3 1014.1 1124.8 1014.3 1122.3 1014.4 1119.8 1014.5 1117.3 1014.6 1114.8 1014.7 1112.3 1014.8 1109.8 1014.9 1107.3 1015.0 1104.8 1015.2 1102.3 1015.3 1099.8 1015.4 1097.3 1015.5 1094.8 1015.6 1092.3 1015.7 1089.8 1015.8 1087.3 1015.9 1084.8 1016.0 1082.3 1016.1 1079.8 1016.2 1077.3 1016.4 1074.8 1016.5 1072.3 1016.6 1069.8 1016.7 1067.3 1016.8 1064.8 1016.9 1062.3 1017.0 1059.8 1017.1 1057.3 1017.2 1054.8 1017.3 1052.3 1017.4 1049.8 1017.5 1047.3 1017.6 1044.8 1017.7 1042.3 1017.8 1039.8 1017.9 1037.3 1018.0 1034.8 1018.1 1032.3 1018.3 1029.8 1018.4 1027.3 1018.5 1024.8 1018.6 1022.3 1018.7 1019.8 1018.8 1017.3 1018.9 1014.8 1019.0 1012.3 1019.1 1009.8 1019.2 1007.3 1019.3 1004.8 1019.4 1002.3 1019.5 999.8 1019.6 997.3 1019.7 994.8 1019.8 992.3 1019.9 989.8 1020.0 987.3 1020.1 984.8 1020.2 982.3 1020.3 979.8 1020.4 977.3 1020.5 974.8 1020.6 972.3 1020.7 969.8 1020.8 967.3 1020.9 964.8 1021.0 962.3 1021.1 959.8 1021.2 957.3 1021.3 954.8 1021.3 952.3 1021.4 949.8 1021.5 947.3 1021.6 944.8 1021.7 942.3 1021.8 939.8 1021.9 937.3 1022.0 934.9 1022.1 932.4 1022.2 929.9 1022.3 927.4 1022.4 924.9 1022.5 922.4 1022.6 919.9 1022.7 917.4 1022.8 914.9 1022.9 912.4 1023.0 909.9 1023.1 907.4 1023.2 904.9 1023.3 902.4 1023.3 899.9 1023.4 897.4 1023.5 894.9 1023.6 892.4 1023.7 889.9 1023.8 887.4 1023.9 884.9 1024.0 882.4 1024.1 879.9 1024.2 877.4 1024.3 874.9 1024.4 872.4 1024.5 869.9 1024.5 867.4 1024.6 864.9 1024.7 862.4 1024.8 859.9 1024.9 857.4 1025.0 854.9 1025.1 852.4 1025.2 849.9 1025.3 847.4 1025.4 844.9 1025.5 842.4 1025.6 839.9 1025.6 837.4 1025.7 834.9 1025.8 832.4 1025.9 829.9 1026.0 827.4 1026.1 824.9 1026.2 822.4 1026.3 819.9 1026.4 817.4 1026.5 814.9 1026.5 812.4 1026.6 809.9 1026.7 807.4 1026.8 804.9 1026.9 802.4 1027.0 799.9 1027.1 797.4 1027.2 794.9 1027.3 792.4 1027.4 789.9 1027.4 787.4 1027.5 784.9 1027.6 782.4 1027.7 779.9 1027.8 777.4 1027.9 774.9 1028.0 772.4 1028.1 769.9 1028.2 767.4 1028.2 764.9 1028.3 762.4 1028.4 759.9 1028.5 757.4 1028.6 754.9 1028.7 752.4 1028.8 749.9 1028.9 747.4 1029.0 744.9 1029.0 742.4 1029.1 739.9 1029.2 737.4 1029.3 734.9 1029.4 732.4 1029.5 729.9 1029.6 727.4 1029.7 724.9 1029.8 722.4 1029.8 719.9 1029.9 717.4 1030.0 715.0 1030.1 712.5 1030.2 710.0 1030.3 707.5 1030.4 705.0 1030.5 702.5 1030.6 700.0 1030.6 697.5 1030.7 695.0 1030.8 692.5 1030.9 690.0 1031.0 687.5 1031.1 685.0 1031.2 682.5 1031.3 680.0 1031.4 677.5 1031.4 675.0 1031.5 672.5 1031.6 670.0 1031.7 667.5 1031.8 665.0 1031.9 662.5 1032.0 660.0 1032.1 657.5 1032.2 655.0 1032.2 652.5 1032.3 650.0 1032.4 647.5 1032.5 645.0 1032.6 642.5 1032.7 640.0 1032.8 637.5 1032.9 635.0 1033.0 632.5 1033.1 630.0 1033.1 627.5 1033.2 625.0 1033.3 622.5 1033.4 620.0 1033.5 617.5 1033.6 615.0 1033.7 612.5 1033.8 610.0 1033.9 607.5 1034.0 605.0 1034.0 602.5 1034.1 600.0 1034.2 597.5 1034.3 595.0 1034.4 592.5 1034.5 590.0 1034.6 587.5 1034.7 585.0 1034.8 582.5 1034.9 580.0 1035.0 577.5 1035.1 575.0 1035.1 572.5 1035.2 570.0 1035.3 567.5 1035.4 565.0 1035.5 562.5 1035.6 560.0 1035.7 557.5 1035.8 555.0 1035.9 552.5 1036.0 550.0 1036.1 547.5 1036.2 545.0 1036.3 542.5 1036.3 540.0 1036.4 537.5 1036.5 535.0 1036.6 532.5 1036.7 530.0 1036.8 527.5 1036.9 525.0 1037.0 522.5 1037.1 520.0 1037.2 517.5 1037.3 515.0 1037.4 512.5 1037.5 510.0 1037.6 507.5 1037.7 505.0 1037.8 502.5 1037.9 500.0 1038.0 497.5 1038.0 495.0 1038.1 492.5 1038.2 490.0 1038.3 487.5 1038.4 485.0 1038.5 482.5 1038.6 480.0 1038.7 477.5 1038.8 475.0 1038.9 472.5 1039.0 470.0 1039.1 467.5 1039.2 465.0 1039.3 462.5 1039.4 460.0 1039.5 457.5 1039.6 455.0 1039.7 452.5 1039.8 450.0 1039.9 447.5 1040.0 445.0 1040.1 442.5 1040.2 440.0 1040.3 437.5 1040.4 435.0 1040.5 432.5 1040.6 430.0 1040.7 427.5 1040.8 425.0 1040.9 422.5 1041.0 420.0 1041.1 417.5 1041.2 415.0 1041.3 412.5 1041.4 410.0 1041.5 407.5 1041.6 405.0 1041.7 402.5 1041.8 400.0 1041.9 397.5 1042.0 395.0 1042.1 392.5 1042.2 390.0 1042.3 387.5 1042.4 385.0 1042.5 382.5 1042.6 380.0 1042.7 377.5 1042.8 375.0 1042.9 372.5 1043.0 370.0 1043.1 367.5 1043.3 365.0 1043.4 362.5 1043.5 360.0 1043.6 357.5 1043.7 355.0 1043.8 352.5 1043.9 350.0 1044.0 347.5 1044.1 345.0 1044.2 342.5 1044.4 340.0 1044.5 337.5 1044.6 335.0 1044.7 332.6 1044.8 330.1 1044.9 327.6 1045.0 325.1 1045.2 322.6 1045.3 320.1 1045.4 317.6 1045.5 315.1 1045.6 312.6 1045.8 310.1 1045.9 307.6 1046.0 305.1 1046.1 302.6 1046.2 300.1 1046.4 297.6 1046.5 295.1 1046.6 292.6 1046.8 290.1 1046.9 287.6 1047.0 285.1 1047.1 282.6 1047.3 280.1 1047.4 277.6 1047.5 275.1 1047.7 272.6 1047.8 270.1 1048.0 267.6 1048.1 265.1 1048.2 262.6 1048.4 260.1 1048.5 257.6 1048.7 255.2 1048.8 252.7 1049.0 250.2 1049.1 247.7 1049.3 245.2 1049.4 242.7 1049.6 240.2 1049.7 237.7 1049.9 235.2 1050.0 232.7 1050.2 230.2 1050.4 227.7 1050.5 225.2 1050.7 222.7 1050.8 220.2 1051.0 217.7 1051.2 215.2 1051.3 212.7 1051.5 210.2 1051.7 207.7 1051.8 205.2 1052.0 202.7 1052.2 200.2 1052.3 197.7 1052.5 195.2 1052.7 192.7 1052.9 190.2 1053.0 187.7 1053.2 185.2 1053.4 182.7 1053.6 180.2 1053.8 177.7 1053.9 175.2 1054.1 172.7 1054.3 170.2 1054.5 167.7 1054.7 165.2 1054.9 162.7 1055.0 160.2 1055.2 157.7 1055.4 155.2 1055.6 152.8 1055.8 150.3 1056.0 147.8 1056.2 145.3 1056.4 142.8 1056.6 140.3 1056.8 137.8 1057.0 135.4 1057.2 132.9 1057.4 130.4 1057.6 128.0 1057.8 125.5 1058.0 123.1 1058.2 120.6 1058.5 118.2 1058.7 115.7 1058.9 113.3 1059.1 110.8 1059.4 108.3 1059.7 105.9 1060.0 103.4 1060.3 100.8 1060.6 98.3 1061.0 95.7 1061.4 93.1 1061.9 90.4 1062.4 87.7 1062.9 84.9 1063.5 82.1 1064.1 79.2 1064.8 76.2 1065.6 73.3 1066.4 70.5 1067.2 67.9 1068.1 65.8 1069.1 64.1 1070.1 63.1 1071.1 62.8 1072.2 63.3 1073.3 64.5 1074.4 66.3 1075.5 68.5 1076.5 71.1 1077.5 73.9 1078.4 76.8 1079.2 79.7 1080.0 82.5 1080.6 85.3 1081.2 87.9 1081.7 90.6 1082.2 93.2 1082.6 95.8 1083.0 98.3 1083.4 100.9 1083.8 103.4 1084.1 106.0 1084.5 108.5 1084.8 111.0 1085.2 113.5 1085.5 116.0 1085.9 118.5 1086.2 121.0 1086.5 123.5 1086.8 126.0 1087.1 128.5 1087.4 131.0 1087.7 133.4 1088.0 135.9 1088.3 138.4 1088.6 140.9 1088.9 143.3 1089.2 145.8 1089.5 148.3 1089.7 150.7 1090.0 153.2 1090.3 155.7 1090.5 158.1 1090.8 160.6 1091.1 163.1 1091.4 165.5 1091.6 168.0 1091.9 170.5 1092.1 172.9 1092.4 175.4 1092.7 177.9 1092.9 180.3 1093.2 182.8 1093.4 185.3 1093.7 187.8 1093.9 190.2 1094.2 192.7 1094.5 195.2 1094.7 197.7 1095.0 200.1 1095.2 202.6 1095.5 205.1 1095.7 207.6 1096.0 210.1 1096.2 212.5 1096.5 215.0 1096.7 217.5 1096.9 220.0 1097.2 222.5 1097.4 225.0 1097.7 227.4 1097.9 229.9 1098.2 232.4 1098.4 234.9 1098.6 237.4 1098.9 239.9 1099.1 242.3 1099.4 244.8 1099.6 247.3 1099.8 249.8 1100.1 252.3 1100.3 254.8 1100.6 257.3 1100.8 259.8 1101.0 262.3 1101.3 264.7 1101.5 267.2 1101.8 269.7 1102.0 272.2 1102.2 274.7 1102.5 277.2 1102.7 279.7 1102.9 282.2 1103.2 284.7 1103.4 287.2 1103.7 289.6 1103.9 292.1 1104.1 294.6 1104.4 297.1 1104.6 299.6 1104.9 302.1 1105.1 304.6 1105.3 307.1 1105.6 309.6 1105.8 312.1 1106.0 314.6 1106.3 317.1 1106.5 319.5 1106.8 322.0 1107.0 324.5 1107.3 327.0 1107.5 329.5 1107.7 332.0 1108.0 334.5 1108.2 337.0 1108.5 339.5 1108.7 342.0 1108.9 344.5 1109.2 347.0 1109.4 349.4 1109.7 351.9 1109.9 354.4 1110.2 356.9 1110.4 359.4 1110.6 361.9 1110.9 364.4 1111.1 366.9 1111.4 369.4 1111.6 371.9 1111.9 374.4 1112.1 376.9 1112.4 379.4 1112.6 381.8 1112.8 384.3 1113.1 386.8 1113.3 389.3 1113.6 391.8 1113.8 394.3 1114.1 396.8 1114.3 399.3 1114.6 401.8 1114.8 404.3 1115.1 406.8 1115.3 409.3 1115.6 411.8 1115.8 414.3 1116.0 416.7 1116.3 419.2 1116.5 421.7 1116.8 424.2 1117.0 426.7 1117.3 429.2 1117.5 431.7 1117.8 434.2 1118.0 436.7 1118.3 439.2 1118.5 441.7 1118.8 444.2 1119.0 446.7 1119.3 449.1 1119.5 451.6 1119.8 454.1 1120.0 456.6 1120.3 459.1 1120.5 461.6 1120.8 464.1 1121.0 466.6 1121.3 469.1 1121.5 471.6 1121.8 474.1 1122.0 476.6 1122.3 479.1 1122.5 481.5 1122.8 484.0 1123.0 486.5 1123.3 489.0 1123.5 491.5 1123.8 494.0 1124.0 496.5 1124.3 499.0 1124.5 501.5 1124.8 504.0 1125.0 506.5 1125.3 509.0 1125.5 511.4 1125.8 513.9 1126.0 516.4 1126.3 518.9 1126.5 521.4 1126.8 523.9 1127.0 526.4 1127.3 528.9 1127.5 531.4 1127.8 533.9 1128.0 536.4 1128.3 538.8 1128.5 541.3 1128.8 543.8 1129.0 546.3 1129.3 548.8 1129.5 551.3 1129.8 553.8 1130.0 556.3 1130.3 558.8 1130.5 561.3 1130.8 563.7 1131.0 566.2 1131.3 568.7 1131.5 571.2 1131.8 573.7 1132.0 576.2 1132.3 578.7 1132.6 581.2 1132.8 583.7 1133.1 586.2 1133.3 588.6 1133.6 591.1 1133.8 593.6 1134.1 596.1 1134.3 598.6 1134.6 601.1 1134.8 603.6 1135.1 606.1 1135.3 608.6 1135.6 611.0 1135.8 613.5 1136.1 616.0 1136.3 618.5 1136.6 621.0 1136.8 623.5 1137.1 626.0 1137.4 628.5 1137.6 630.9 1137.9 633.4 1138.1 635.9 1138.4 638.4 1138.6 640.9 1138.9 643.4 1139.1 645.9 1139.4 648.4 1139.6 650.8 1139.9 653.3 1140.2 655.8 1140.4 658.3 1140.7 660.8 1140.9 663.3 1141.2 665.8 1141.5 668.2 1141.7 670.7 1142.0 673.2 1142.2 675.7 1142.5 678.2 1142.8 680.7 1143.0 683.2 1143.3 685.6 1143.5 688.1 1143.8 690.6 1144.1 693.1 1144.3 695.6 1144.6 698.1 1144.9 700.6 1145.1 703.0 1145.4 705.5 1145.7 708.0 1145.9 710.5 1146.2 713.0 1146.5 715.5 1146.8 717.9 1147.0 720.4 1147.3 722.9 1147.6 725.4 1147.8 727.9 1148.1 730.4 1148.4 732.8 1148.7 735.3 1148.9 737.8 1149.2 740.3 1149.5 742.8 1149.8 745.2 1150.1 747.7 1150.3 750.2 1150.6 752.7 1150.9 755.2 1151.2 757.7 1151.5 760.1 1151.8 762.6 1152.0 765.1 1152.3 767.6 1152.6 770.1 1152.9 772.5 1153.2 775.0 1153.5 777.5 1153.8 780.0 1154.1 782.5 1154.4 784.9 1154.7 787.4 1155.0 789.9 1155.3 792.4 1155.6 794.8 1155.9 797.3 1156.2 799.8 1156.5 802.3 1156.8 804.8 1157.1 807.2 1157.4 809.7 1157.7 812.2 1158.0 814.7 1158.3 817.1 1158.6 819.6 1158.9 822.1 1159.2 824.6 1159.5 827.1 1159.9 829.5 1160.2 832.0 1160.5 834.5 1160.8 837.0 1161.1 839.4 1161.5 841.9 1161.8 844.4 1162.1 846.9 1162.4 849.3 1162.8 851.8 1163.1 854.3 1163.4 856.8 1163.7 859.2 1164.1 861.7 1164.4 864.2 1164.8 866.7 1165.1 869.1 1165.4 871.6 1165.8 874.1 1166.1 876.5 1166.5 879.0 1166.8 881.5 1167.1 884.0 1167.5 886.4 1167.8 888.9 1168.2 891.4 1168.5 893.8 1168.9 896.3 1169.3 898.8 1169.6 901.3 1170.0 903.7 1170.3 906.2 1170.7 908.7 1171.1 911.1 1171.4 913.6 1171.8 916.1 1172.2 918.5 1172.5 921.0 1172.9 923.5 1173.3 926.0 1173.7 928.4 1174.0 930.9 1174.4 933.4 1174.8 935.8 1175.2 938.3 1175.6 940.8 1176.0 943.2 1176.3 945.7 1176.7 948.2 1177.1 950.6 1177.5 953.1 1177.9 955.6 1178.3 958.0 1178.7 960.5 1179.1 963.0 1179.5 965.4 1179.9 967.9 1180.3 970.3 1180.8 972.8 1181.2 975.3 1181.6 977.7 1182.0 980.2 1182.4 982.7 1182.8 985.1 1183.3 987.6 1183.7 990.1 1184.1 992.5 1184.5 995.0 1185.0 997.4 1185.4 999.9 1185.8 1002.4 1186.3 1004.8 1186.7 1007.3 1187.2 1009.7 1187.6 1012.2 1188.1 1014.7 1188.5 1017.1 1189.0 1019.6 1189.4 1022.0 1189.9 1024.5 1190.3 1027.0 1190.8 1029.4 1191.3 1031.9 1191.7 1034.3 1192.2 1036.8 1192.7 1039.2 1193.1 1041.7 1193.6 1044.2 1194.1 1046.6 1194.6 1049.1 1195.0 1051.5 1195.5 1054.0 1196.0 1056.4 1196.5 1058.9 1197.0 1061.4 1197.5 1063.8 1198.0 1066.3 1198.5 1068.7 1199.0 1071.2 1199.5 1073.6 1200.0 1076.1 1200.5 1078.5 1201.0 1081.0 1201.5 1083.4 1202.1 1085.9 1202.6 1088.3 1203.1 1090.8 1203.6 1093.2 1204.2 1095.7 1204.7 1098.1 1205.2 1100.6 1205.8 1103.0 1206.3 1105.5 1206.8 1107.9 1207.4 1110.4 1207.9 1112.8 1208.5 1115.3 1209.0 1117.7 1209.6 1120.2 1210.1 1122.6 1210.7 1125.1 1211.3 1127.5 1211.8 1130.0 1212.4 1132.4 1213.0 1134.9 1213.5 1137.3 1214.1 1139.8 1214.7 1142.2 1215.3 1144.7 1215.9 1147.1 1216.5 1149.5 1217.1 1152.0 1217.7 1154.4 1218.3 1156.9 1218.9 1159.3 1219.5 1161.8 1220.1 1164.2 1220.7 1166.7 1221.3 1169.1 1221.9 1171.5 1222.5 1174.0 1223.2 1176.4 1223.8 1178.8 1224.4 1181.3 1225.1 1183.7 1225.7 1186.2 1226.4 1188.6 1227.0 1191.0 1227.7 1193.4 1228.3 1195.9 1229.0 1198.3 1229.7 1200.7 1230.3 1203.2 1231.0 1205.6 1231.7 1208.0 1232.4 1210.4 1233.1 1212.8 1233.8 1215.3 1234.5 1217.7 1235.2 1220.1 1235.9 1222.5 1236.6 1224.9 1237.3 1227.3 1238.1 1229.7 1238.8 1232.1 1239.5 1234.5 1240.3 1236.9 1241.0 1239.3 1241.8 1241.7 1242.6 1244.1 1243.3 1246.5 1244.1 1248.9 1244.9 1251.2 1245.7 1253.6 1246.5 1256.0 1247.3 1258.4 1248.1 1260.7 1248.9 1263.1 1249.7 1265.5 1250.5 1267.8 1251.4 1270.2 1252.2 1272.5 1253.1 1274.9 1253.9 1277.2 1254.8 1279.6 1255.7 1281.9 1256.5 1284.3 1257.4 1286.6 1258.3 1288.9 1259.2 1291.3 1260.1 1293.6 1261.0 1295.9 1262.0 1298.2 1262.9 1300.5 1263.8 1302.8 1264.8 1305.1 1265.7 1307.4 1266.7 1309.7 1267.7 1312.0 1268.7 1314.3 1269.6 1316.6 1270.6 1318.9 1271.7 1321.1 1272.7 1323.4 1273.7 1325.7 1274.7 1327.9 1275.8 1330.2 1276.8 1332.4 1277.9 1334.7 1278.9 1336.9 1280.0 1339.2 1281.1 1341.4 1282.2 1343.6 1283.3 1345.8 1284.4 1348.0 1285.6 1350.3 1286.7 1352.5 1287.8 1354.7 1289.0 1356.9 1290.2 1359.0 1291.3 1361.2 1292.5 1363.4 1293.7 1365.6 1294.9 1367.7 1296.1 1369.9 1297.4 1372.0 1298.6 1374.2 1299.9 1376.3 1301.1 1378.5 1302.4 1380.6 1303.7 1382.7 1305.0 1384.8 1306.3 1387.0 1307.6 1389.1 1308.9 1391.2 1310.2 1393.3 1311.6 1395.3 1312.9 1397.4 1314.3 1399.5 1315.7 1401.6 1317.1 1403.6 1318.5 1405.7 1319.9 1407.7 1321.3 1409.8 1322.8 1411.8 1324.2 1413.8 1325.7 1415.8 1327.2 1417.8 1328.7 1419.8 1330.2 1421.8 1331.7 1423.8 1333.2 1425.8 1334.8 1427.8 1336.3 1429.7 1337.9 1431.7 1339.5 1433.6 1341.1 1435.6 1342.7 1437.5 1344.3 1439.4 1345.9 1441.3 1347.6 1443.2 1349.2 1445.1 1350.9 1446.9 1352.6 1448.8 1354.3 1450.6 1356.1 1452.4 1357.8 1454.2 1359.6 1456.0 1361.3 1457.8 1363.1 1459.5 1364.9 1461.2 1366.8 1462.9 1368.6 1464.6 1370.5 1466.3 1372.4 1467.9 1374.2 1469.5 1376.2 1471.1 1378.1 1472.7 1380.1 1474.2 1382.0 1475.7 1384.0 1477.2 1386.0 1478.7 1388.1 1480.1 1390.1 1481.5 1392.2 1482.9 1394.3 1484.2 1396.4 1485.5 1398.5 1486.8 1400.7 1488.1 1402.8 1489.3 1405.0 1490.5 1407.2 1491.7 1409.5 1492.8 1411.7 1493.9 1414.0 1495.0 1416.3 1496.0 1418.6 1497.0 1420.9 1498.0 1423.2 1499.0 1425.6 1499.9 1427.9 1500.8 1430.3 1501.7 1432.7 1502.6 1435.1 1503.4 1437.5 1504.3 1439.9 1505.1 1442.3 1505.8 1444.7 1506.6 1447.2 1507.3 1449.6 1508.0 1452.1 1508.7 1454.5 1509.4 1457.0 1510.0 1459.4 1510.7 1461.9 1511.3 1464.4 1511.9 1466.8 1512.5 1469.3 1513.0 1471.8 1513.6 1474.3 1514.1 1476.7 1514.6 1479.2 1515.2 1481.7 1515.7 1484.1 1516.1 1486.6 1516.6 1489.0 1517.1 1491.5 1517.5 1493.9 1518.0 1496.4 1518.4 1498.8 1518.8 1501.3 1519.2 1503.7 1519.6 1506.1 1520.0 1508.6 1520.4 1511.0 1520.8 1513.5 1521.2 1515.9 1521.6 1518.3 1521.9 1520.8 1522.3 1523.2 1522.6 1525.6 1523.0 1528.1 1523.3 1530.5 1523.7 1533.0 1524.0 1535.4 1524.4 1537.9 1524.7 1540.3 1525.1 1542.8 1525.4 1545.2 1525.7 1547.7 1526.1 1550.1 1526.4 1552.6 1526.8 1555.1 1527.1 1557.5 1527.5 1560.0 1527.8 1562.5 1528.2 1565.0 1528.5 1567.5 1528.9 1570.0 1529.2 1572.5 1529.6 1575.0 1530.0 1577.5 1530.3 1580.0 1530.7 1582.5 1531.0 1585.0 1531.3 1587.5 1531.7 1590.0 1532.0 1592.5 1532.2 1595.0 1532.5 1597.5 1532.8 1600.0 1533.0 1602.5 1533.2 1605.0 1533.4 1607.5 1533.6 1610.0 1533.7 1612.4 1533.8 1614.9 1533.9 1617.4 1533.9 1619.9 1533.9 1622.3 1533.9 1624.8 1533.9 1627.2 1533.8 1629.7 1533.8 1632.1 1533.8 1634.6 1533.8 1637.0 1533.8 1639.5 1533.8 1641.9 1533.9 1644.4 1534.0 1646.9 1534.2 1649.3 1534.5 1651.8 1534.8 1654.3 1535.2 1656.8 1535.7 1659.4 1536.3 1661.9 1536.9 1664.4 1537.6 1666.9 1538.4 1669.4 1539.1 1671.9 1539.8 1674.4 1540.4 1676.8 1541.0 1679.1 1541.4 1681.5 1541.6 1683.7 1541.7 1685.9 1541.6 1688.1 1541.3 1690.1 1540.7 1692.1 1539.9 1693.9 1538.7 1695.7 1537.2 1697.4 1535.4 1699.0 1533.3 1700.5 1531.0 1702.0 1528.5 1703.5 1525.9 1704.9 1523.2 1706.3 1520.5 1707.7 1517.7 1709.1 1515.0 1710.5 1512.3 1711.9 1509.7 1713.4 1507.2 1714.9 1504.9 1716.4 1502.9 1718.0 1501.0 1719.7 1499.4 1721.4 1498.1 1723.3 1497.2 1725.2 1496.7 1727.2 1496.5 1729.2 1496.8 1731.4 1497.3 1733.6 1498.3 1735.8 1499.4 1738.0 1500.8 1740.2 1502.4 1742.4 1504.1 1744.5 1505.9 1746.6 1507.8 1748.6 1509.6 1750.5 1511.5 1752.3 1513.4 1754.1 1515.3 1755.8 1517.1 1757.5 1519.0 1759.2 1520.8 1760.8 1522.6 1762.5 1524.4 1764.1 1526.2 1765.8 1527.9 1767.5 1529.7 1769.3 1531.3 1771.1 1533.0 1772.9 1534.5 1774.8 1536.1 1776.8 1537.6 1778.9 1539.0 1781.0 1540.3 1783.2 1541.6 1785.4 1542.8 1787.7 1543.9 1790.0 1544.8 1792.4 1545.7 1794.8 1546.5 1797.3 1547.1 1799.7 1547.7 1802.3 1548.0 1804.8 1548.3 1807.3 1548.4 1809.8 1548.3 1812.3 1548.1 1814.7 1547.7 1817.1 1547.1 1819.3 1546.4 1821.5 1545.4 1823.6 1544.3 1825.5 1542.9 1827.3 1541.3 1828.9 1539.6 1830.5 1537.6 1832.1 1535.4 1833.5 1532.9 1835.0 1530.3 1836.4 1527.4 1837.8 1524.3 1839.2 1521.0 1840.6 1517.8 1842.0 1514.8 1843.4 1512.0 1844.9 1509.7 1846.4 1508.0 1848.0 1506.9 1849.6 1506.5 1851.3 1506.7 1853.0 1507.4 1854.6 1508.5 1856.3 1509.9 1857.9 1511.6 1859.5 1513.5 1861.1 1515.5 1862.6 1517.5 1864.0 1519.5 1865.3 1521.5 1866.7 1523.6 1867.9 1525.7 1869.1 1527.8 1870.3 1530.0 1871.4 1532.2 1872.5 1534.4 1873.5 1536.6 1874.5 1538.8 1875.5 1541.1 1876.4 1543.4 1877.4 1545.7 1878.3 1548.0 1879.2 1550.3 1880.0 1552.6 1880.9 1555.0 1881.7 1557.4 1882.6 1559.8 1883.4 1562.2 1884.3 1564.6 1885.1 1567.0 1886.0 1569.5 1886.8 1571.9 1887.7 1574.4 1888.6 1576.8 1889.5 1579.3 1890.5 1581.8 1891.4 1584.3 1892.4 1586.8 1893.4 1589.3 1894.5 1591.8 1895.6 1594.3 1896.7 1596.8 1897.9 1599.3 1899.1 1601.7 1900.4 1604.0 1901.7 1606.2 1903.1 1608.2 1904.6 1610.0 1906.2 1611.5 1907.9 1612.7 1909.6 1613.5 1911.5 1614.0 1913.4 1614.0 1915.4 1613.7 1917.6 1613.0 1919.7 1612.0 1921.9 1610.8 1924.1 1609.4 1926.3 1607.8 1928.5 1606.1 1930.6 1604.4 1932.7 1602.6 1934.9 1600.7 1937.0 1598.8 1939.0 1597.0 1941.1 1595.1 1943.2 1593.4 1945.3 1591.7 1947.3 1590.1 1949.4 1588.6 1951.4 1587.3 1953.5 1586.1 1955.6 1585.2 1957.7 1584.4 1959.8 1583.9 1961.9 1583.6 1964.0 1583.7 1966.2 1584.0 1968.3 1584.7 1970.5 1585.7 1972.8 1586.9 1975.0 1588.4 1977.2 1590.0 1979.4 1591.7 1981.7 1593.5 1983.9 1595.4 1986.1 1597.2 1988.3 1598.9 1990.5 1600.5 1992.6 1601.9 1994.7 1603.1 1996.8 1604.0 1998.8 1604.6 2000.8 1604.9" stroke="#ff0000"/>
<path d="M66.0 1566.6 L68.5 1566.6 71.0 1566.6 73.5 1566.6 76.0 1566.7 78.5 1566.7 81.0 1566.7 83.5 1566.7 86.0 1566.7 88.5 1566.7 91.0 1566.7 93.5 1566.7 96.0 1566.7 98.5 1566.7 101.0 1566.7 103.5 1566.7 106.0 1566.8 108.5 1566.8 111.0 1566.8 113.5 1566.8 116.0 1566.8 118.5 1566.8 121.0 1566.8 123.5 1566.8 126.0 1566.8 128.5 1566.8 131.0 1566.8 133.5 1566.8 136.0 1566.8 138.5 1566.9 141.0 1566.9 143.5 1566.9 146.0 1566.9 148.5 1566.9 151.0 1566.9 153.5 1566.9 156.0 1566.9 158.5 1566.9 161.0 1566.9 163.5 1566.9 166.0 1566.9 168.5 1566.9 171.0 1566.9 173.5 1566.9 176.0 1566.9 178.5 1566.9 181.0 1566.9 183.5 1567.0 186.0 1567.0 188.6 1567.0 191.1 1567.0 193.6 1567.0 196.1 1567.0 198.6 1567.0 201.1 1567.0 203.6 1567.0 206.1 1567.0 208.6 1567.0 211.1 1567.0 213.6 1567.0 216.1 1567.0 218.6 1567.0 221.1 1567.0 223.6 1567.0 226.1 1567.0 228.6 1567.0 231.1 1567.0 233.6 1567.0 236.1 1567.0 238.6 1567.0 241.1 1567.0 243.6 1567.0 246.1 1567.0 248.6 1567.1 251.1 1567.1 253.6 1567.1 256.1 1567.1 258.6 1567.1 261.1 1567.1 263.6 1567.1 266.1 1567.1 268.6 1567.1 271.1 1567.1 273.6 1567.1 276.1 1567.1 278.6 1567.1 281.1 1567.1 283.6 1567.1 286.1 1567.1 288.6 1567.1 291.1 1567.1 293.6 1567.1 296.1 1567.1 298.6 1567.1 301.1 1567.1 303.6 1567.1 306.1 1567.1 308.6 1567.1 311.1 1567.1 313.6 1567.1 316.1 1567.1 318.6 1567.1 321.1 1567.1 323.6 1567.1 326.1 1567.1 328.6 1567.1 331.1 1567.1 333.6 1567.1 336.1 1567.1 338.6 1567.1 341.1 1567.1 343.6 1567.1 346.1 1567.1 348.6 1567.1 351.1 1567.1 353.6 1567.1 356.1 1567.1 358.6 1567.1 361.1 1567.1 363.6 1567.1 366.1 1567.1 368.6 1567.1 371.1 1567.1 373.6 1567.1 376.1 1567.1 378.6 1567.1 381.1 1567.1 383.6 1567.1 386.1 1567.1 388.6 1567.1 391.1 1567.1 393.6 1567.1 396.1 1567.1 398.6 1567.1 401.1 1567.1 403.6 1567.1 406.1 1567.1 408.6 1567.1 411.1 1567.1 413.6 1567.1 416.1 1567.1 418.6 1567.1 421.1 1567.1 423.6 1567.1 426.1 1567.1 428.6 1567.1 431.1 1567.1 433.6 1567.1 436.1 1567.1 438.6 1567.1 441.1 1567.1 443.6 1567.1 446.1 1567.1 448.6 1567.1 451.1 1567.1 453.6 1567.1 456.1 1567.1 458.6 1567.1 461.1 1567.1 463.6 1567.1 466.1 1567.1 468.6 1567.1 471.1 1567.1 473.6 1567.1 476.1 1567.1 478.6 1567.1 481.1 1567.1 483.6 1567.1 486.1 1567.0 488.6 1567.0 491.1 1567.0 493.6 1567.0 496.1 1567.0 498.6 1567.0 501.1 1567.0 503.6 1567.0 506.1 1567.0 508.6 1567.0 511.1 1567.0 513.6 1567.0 516.1 1567.0 518.6 1567.0 521.1 1567.0 523.6 1567.0 526.1 1567.0 528.6 1567.0 531.1 1567.0 533.6 1567.0 536.1 1567.0 538.6 1567.0 541.1 1567.0 543.6 1567.0 546.1 1567.0 548.6 1567.0 551.1 1567.0 553.6 1567.0 556.1 1567.0 558.6 1567.0 561.1 1567.0 563.6 1567.0 566.1 1567.0 568.6 1567.0 571.1 1567.0 573.6 1567.0 576.1 1567.0 578.6 1567.0 581.1 1567.0 583.6 1567.0 586.1 1567.0 588.6 1567.0 591.1 1566.9 593.6 1566.9 596.1 1566.9 598.6 1566.9 601.1 1566.9 603.6 1566.9 606.1 1566.9 608.6 1566.9 611.1 1566.9 613.6 1566.9 616.1 1566.9 618.6 1566.9 621.1 1566.9 623.6 1566.9 626.1 1566.9 628.6 1566.9 631.1 1566.9 633.6 1566.9 636.1 1566.9 638.6 1566.9 641.1 1566.9 643.6 1566.9 646.1 1566.9 648.6 1566.9 651.1 1566.9 653.7 1566.9 656.2 1566.9 658.7 1566.9 661.2 1566.9 663.7 1566.9 666.2 1566.9 668.7 1566.9 671.2 1566.9 673.7 1566.9 676.2 1566.9 678.7 1566.9 681.2 1566.9 683.7 1566.9 686.2 1566.9 688.7 1566.9 691.2 1566.8 693.7 1566.8 696.2 1566.8 698.7 1566.8 701.2 1566.8 703.7 1566.8 706.2 1566.8 708.7 1566.8 711.2 1566.8 713.7 1566.8 716.2 1566.8 718.7 1566.8 721.2 1566.8 723.7 1566.8 726.2 1566.8 728.7 1566.8 731.2 1566.8 733.7 1566.8 736.2 1566.8 738.7 1566.8 741.2 1566.8 743.7 1566.8 746.2 1566.8 748.7 1566.8 751.2 1566.8 753.7 1566.8 756.2 1566.9 758.7 1566.9 761.2 1566.9 763.7 1566.9 766.2 1566.9 768.7 1566.9 771.2 1566.9 773.7 1566.9 776.2 1566.9 778.8 1566.9 781.3 1566.9 783.8 1566.9 786.3 1566.9 788.8 1567.0 791.3 1567.0 793.8 1567.0 796.3 1567.0 798.8 1567.0 801.3 1567.0 803.8 1567.0 806.2 1567.0 808.7 1567.1 811.2 1567.1 813.7 1567.1 816.2 1567.1 818.7 1567.1 821.2 1567.2 823.7 1567.2 826.2 1567.2 828.7 1567.2 831.2 1567.3 833.7 1567.3 836.2 1567.3 838.7 1567.3 841.2 1567.4 843.7 1567.4 846.2 1567.4 848.7 1567.5 851.2 1567.5 853.7 1567.5 856.2 1567.6 858.7 1567.6 861.2 1567.6 863.7 1567.6 866.2 1567.7 868.7 1567.7 871.2 1567.7 873.7 1567.7 876.2 1567.8 878.7 1567.8 881.2 1567.8 883.7 1567.8 886.2 1567.8 888.7 1567.7 891.2 1567.7 893.7 1567.7 896.2 1567.6 898.7 1567.6 901.2 1567.5 903.7 1567.4 906.2 1567.4 908.7 1567.3 911.2 1567.2 913.7 1567.0 916.3 1566.9 918.8 1566.7 921.3 1566.6 923.8 1566.4 926.3 1566.2 928.9 1566.0 931.4 1565.8 933.9 1565.5 936.5 1565.2 939.0 1565.0 941.5 1564.6 944.1 1564.3 946.6 1564.0 949.1 1563.5 951.6 1563.1 954.1 1562.5 956.5 1561.9 958.8 1561.1 961.1 1560.3 963.3 1559.3 965.4 1558.1 967.4 1556.8 969.3 1555.4 971.1 1553.8 972.9 1552.1 974.5 1550.3 976.1 1548.4 977.7 1546.4 979.1 1544.4 980.5 1542.3 981.9 1540.1 983.2 1538.0 984.5 1535.8 985.8 1533.6 987.0 1531.4 988.2 1529.2 989.3 1527.0 990.5 1524.7 991.5 1522.4 992.6 1520.2 993.6 1517.9 994.6 1515.6 995.6 1513.3 996.5 1511.0 997.4 1508.6 998.3 1506.3 999.1 1503.9 999.9 1501.6 1000.7 1499.2 1001.5 1496.8 1002.3 1494.5 1003.0 1492.1 1003.7 1489.7 1004.4 1487.3 1005.0 1484.8 1005.7 1482.4 1006.3 1480.0 1006.9 1477.6 1007.5 1475.1 1008.1 1472.7 1008.6 1470.2 1009.2 1467.8 1009.7 1465.3 1010.2 1462.9 1010.7 1460.4 1011.2 1458.0 1011.7 1455.5 1012.2 1453.0 1012.7 1450.6 1013.1 1448.1 1013.6 1445.6 1014.0 1443.2 1014.5 1440.7 1014.9 1438.3 1015.3 1435.8 1015.7 1433.3 1016.1 1430.9 1016.5 1428.4 1016.9 1425.9 1017.3 1423.5 1017.7 1421.0 1018.1 1418.5 1018.4 1416.0 1018.8 1413.6 1019.1 1411.1 1019.5 1408.6 1019.8 1406.2 1020.2 1403.7 1020.5 1401.2 1020.9 1398.7 1021.2 1396.3 1021.5 1393.8 1021.8 1391.3 1022.1 1388.9 1022.5 1386.4 1022.8 1383.9 1023.1 1381.4 1023.4 1378.9 1023.7 1376.5 1024.0 1374.0 1024.3 1371.5 1024.6 1369.0 1024.8 1366.5 1025.1 1364.1 1025.4 1361.6 1025.7 1359.1 1026.0 1356.6 1026.2 1354.1 1026.5 1351.7 1026.8 1349.2 1027.0 1346.7 1027.3 1344.2 1027.6 1341.7 1027.8 1339.2 1028.1 1336.7 1028.3 1334.3 1028.6 1331.8 1028.8 1329.3 1029.1 1326.8 1029.3 1324.3 1029.6 1321.8 1029.8 1319.3 1030.0 1316.8 1030.3 1314.3 1030.5 1311.8 1030.7 1309.4 1031.0 1306.9 1031.2 1304.4 1031.4 1301.9 1031.7 1299.4 1031.9 1296.9 1032.1 1294.4 1032.3 1291.9 1032.5 1289.4 1032.8 1286.9 1033.0 1284.4 1033.2 1281.9 1033.4 1279.5 1033.6 1277.0 1033.8 1274.5 1034.0 1272.0 1034.2 1269.5 1034.5 1267.0 1034.7 1264.5 1034.9 1262.0 1035.1 1259.5 1035.3 1257.0 1035.5 1254.5 1035.7 1252.0 1035.9 1249.5 1036.1 1247.0 1036.3 1244.5 1036.5 1242.0 1036.7 1239.5 1036.9 1237.0 1037.1 1234.6 1037.3 1232.1 1037.5 1229.6 1037.7 1227.1 1037.9 1224.6 1038.1 1222.1 1038.3 1219.6 1038.5 1217.1 1038.7 1214.6 1038.9 1212.1 1039.1 1209.6 1039.3 1207.1 1039.5 1204.6 1039.6 1202.1 1039.8 1199.6 1040.0 1197.1 1040.2 1194.6 1040.4 1192.1 1040.6 1189.6 1040.8 1187.2 1041.0 1184.7 1041.2 1182.2 1041.4 1179.7 1041.5 1177.2 1041.7 1174.7 1041.9 1172.2 1042.1 1169.7 1042.3 1167.2 1042.5 1164.7 1042.7 1162.2 1042.8 1159.7 1043.0 1157.2 1043.2 1154.7 1043.4 1152.2 1043.6 1149.7 1043.7 1147.2 1043.9 1144.7 1044.1 1142.2 1044.3 1139.8 1044.5 1137.3 1044.6 1134.8 1044.8 1132.3 1045.0 1129.8 1045.2 1127.3 1045.4 1124.8 1045.5 1122.3 1045.7 1119.8 1045.9 1117.3 1046.1 1114.8 1046.2 1112.3 1046.4 1109.8 1046.6 1107.3 1046.8 1104.8 1046.9 1102.3 1047.1 1099.8 1047.3 1097.3 1047.4 1094.8 1047.6 1092.3 1047.8 1089.8 1048.0 1087.4 1048.1 1084.9 1048.3 1082.4 1048.5 1079.9 1048.6 1077.4 1048.8 1074.9 1049.0 1072.4 1049.1 1069.9 1049.3 1067.4 1049.5 1064.9 1049.6 1062.4 1049.8 1059.9 1050.0 1057.4 1050.1 1054.9 1050.3 1052.4 1050.5 1049.9 1050.6 1047.4 1050.8 1044.9 1051.0 1042.4 1051.1 1039.9 1051.3 1037.4 1051.4 1034.9 1051.6 1032.5 1051.8 1030.0 1051.9 1027.5 1052.1 1025.0 1052.2 1022.5 1052.4 1020.0 1052.6 1017.5 1052.7 1015.0 1052.9 1012.5 1053.0 1010.0 1053.2 1007.5 1053.4 1005.0 1053.5 1002.5 1053.7 1000.0 1053.8 997.5 1054.0 995.0 1054.1 992.5 1054.3 990.0 1054.5 987.5 1054.6 985.0 1054.8 982.5 1054.9 980.0 1055.1 977.5 1055.2 975.0 1055.4 972.6 1055.5 970.1 1055.7 967.6 1055.9 965.1 1056.0 962.6 1056.2 960.1 1056.3 957.6 1056.5 955.1 1056.6 952.6 1056.8 950.1 1056.9 947.6 1057.1 945.1 1057.2 942.6 1057.4 940.1 1057.5 937.6 1057.7 935.1 1057.8 932.6 1058.0 930.1 1058.1 927.6 1058.3 925.1 1058.4 922.6 1058.6 920.1 1058.7 917.6 1058.9 915.1 1059.0 912.6 1059.2 910.1 1059.3 907.7 1059.5 905.2 1059.6 902.7 1059.8 900.2 1059.9 897.7 1060.0 895.2 1060.2 892.7 1060.3 890.2 1060.5 887.7 1060.6 885.2 1060.8 882.7 1060.9 880.2 1061.1 877.7 1061.2 875.2 1061.4 872.7 1061.5 870.2 1061.6 867.7 1061.8 865.2 1061.9 862.7 1062.1 860.2 1062.2 857.7 1062.4 855.2 1062.5 852.7 1062.7 850.2 1062.8 847.7 1062.9 845.2 1063.1 842.7 1063.2 840.2 1063.4 837.7 1063.5 835.3 1063.7 832.8 1063.8 830.3 1063.9 827.8 1064.1 825.3 1064.2 822.8 1064.4 820.3 1064.5 817.8 1064.7 815.3 1064.8 812.8 1064.9 810.3 1065.1 807.8 1065.2 805.3 1065.4 802.8 1065.5 800.3 1065.6 797.8 1065.8 795.3 1065.9 792.8 1066.1 790.3 1066.2 787.8 1066.3 785.3 1066.5 782.8 1066.6 780.3 1066.8 777.8 1066.9 775.3 1067.1 772.8 1067.2 770.3 1067.3 767.8 1067.5 765.3 1067.6 762.8 1067.8 760.3 1067.9 757.8 1068.0 755.3 1068.2 752.8 1068.3 750.4 1068.5 747.9 1068.6 745.4 1068.7 742.9 1068.9 740.4 1069.0 737.9 1069.2 735.4 1069.3 732.9 1069.4 730.4 1069.6 727.9 1069.7 725.4 1069.8 722.9 1070.0 720.4 1070.1 717.9 1070.3 715.4 1070.4 712.9 1070.5 710.4 1070.7 707.9 1070.8 705.4 1071.0 702.9 1071.1 700.4 1071.2 697.9 1071.4 695.4 1071.5 692.9 1071.7 690.4 1071.8 687.9 1071.9 685.4 1072.1 682.9 1072.2 680.4 1072.4 677.9 1072.5 675.4 1072.6 672.9 1072.8 670.4 1072.9 667.9 1073.1 665.4 1073.2 662.9 1073.3 660.4 1073.5 657.9 1073.6 655.4 1073.8 652.9 1073.9 650.4 1074.0 647.9 1074.2 645.5 1074.3 643.0 1074.5 640.5 1074.6 638.0 1074.8 635.5 1074.9 633.0 1075.0 630.5 1075.2 628.0 1075.3 625.5 1075.5 623.0 1075.6 620.5 1075.7 618.0 1075.9 615.5 1076.0 613.0 1076.2 610.5 1076.3 608.0 1076.5 605.5 1076.6 603.0 1076.7 600.5 1076.9 598.0 1077.0 595.5 1077.2 593.0 1077.3 590.5 1077.5 588.0 1077.6 585.5 1077.8 583.0 1077.9 580.5 1078.0 578.0 1078.2 575.5 1078.3 573.0 1078.5 570.5 1078.6 568.0 1078.8 565.5 1078.9 563.0 1079.1 560.5 1079.2 558.0 1079.4 555.5 1079.5 553.0 1079.6 550.5 1079.8 548.0 1079.9 545.5 1080.1 543.0 1080.2 540.5 1080.4 538.0 1080.5 535.5 1080.7 533.1 1080.8 530.6 1081.0 528.1 1081.1 525.6 1081.3 523.1 1081.4 520.6 1081.6 518.1 1081.7 515.6 1081.9 513.1 1082.0 510.6 1082.2 508.1 1082.3 505.6 1082.5 503.1 1082.6 500.6 1082.8 498.1 1083.0 495.6 1083.1 493.1 1083.3 490.6 1083.4 488.1 1083.6 485.6 1083.7 483.1 1083.9 480.6 1084.0 478.1 1084.2 475.6 1084.4 473.1 1084.5 470.6 1084.7 468.1 1084.8 465.6 1085.0 463.1 1085.1 460.7 1085.3 458.2 1085.5 455.7 1085.6 453.2 1085.8 450.7 1085.9 448.2 1086.1 445.7 1086.3 443.2 1086.4 440.7 1086.6 438.2 1086.7 435.7 1086.9 433.2 1087.1 430.7 1087.2 428.2 1087.4 425.7 1087.6 423.2 1087.7 420.7 1087.9 418.2 1088.1 415.7 1088.2 413.3 1088.4 410.8 1088.6 408.3 1088.7 405.8 1088.9 403.3 1089.1 400.8 1089.2 398.3 1089.4 395.8 1089.6 393.3 1089.8 390.8 1089.9 388.3 1090.1 385.8 1090.3 383.3 1090.4 380.8 1090.6 378.3 1090.8 375.8 1091.0 373.4 1091.1 370.9 1091.3 368.4 1091.5 365.9 1091.7 363.4 1091.8 360.9 1092.0 358.4 1092.2 355.9 1092.4 353.4 1092.6 350.9 1092.7 348.4 1092.9 345.9 1093.1 343.5 1093.3 341.0 1093.5 338.5 1093.7 336.0 1093.8 333.5 1094.0 331.0 1094.2 328.5 1094.4 326.0 1094.6 323.5 1094.8 321.0 1095.0 318.5 1095.2 316.0 1095.4 313.5 1095.6 311.1 1095.8 308.6 1096.0 306.1 1096.2 303.6 1096.4 301.1 1096.6 298.6 1096.8 296.1 1097.0 293.6 1097.2 291.1 1097.5 288.6 1097.7 286.1 1097.9 283.6 1098.1 281.1 1098.3 278.6 1098.6 276.1 1098.8 273.7 1099.0 271.2 1099.2 268.7 1099.5 266.2 1099.7 263.7 1100.0 261.2 1100.2 258.7 1100.4 256.2 1100.7 253.7 1100.9 251.2 1101.2 248.7 1101.4 246.2 1101.7 243.7 1102.0 241.2 1102.2 238.7 1102.5 236.2 1102.8 233.7 1103.0 231.2 1103.3 228.7 1103.6 226.2 1103.9 223.7 1104.1 221.2 1104.4 218.7 1104.7 216.2 1105.0 213.7 1105.3 211.2 1105.6 208.7 1105.9 206.2 1106.2 203.7 1106.5 201.2 1106.9 198.7 1107.2 196.3 1107.5 193.8 1107.8 191.4 1108.1 188.9 1108.5 186.5 1108.8 184.1 1109.1 181.7 1109.4 179.3 1109.8 177.0 1110.1 174.7 1110.5 172.3 1110.9 170.0 1111.3 167.6 1111.8 165.2 1112.3 162.7 1112.8 160.2 1113.4 157.7 1114.1 155.1 1114.8 152.4 1115.6 149.7 1116.4 147.0 1117.2 144.2 1118.0 141.4 1118.9 138.5 1119.8 135.5 1120.7 132.7 1121.6 129.9 1122.6 127.4 1123.6 125.2 1124.6 123.5 1125.6 122.3 1126.7 121.7 1127.8 121.9 1129.0 122.7 1130.1 124.2 1131.3 126.1 1132.5 128.4 1133.6 131.0 1134.7 133.8 1135.8 136.6 1136.8 139.5 1137.8 142.3 1138.7 145.1 1139.5 147.8 1140.3 150.4 1141.1 153.0 1141.8 155.6 1142.5 158.1 1143.1 160.6 1143.7 163.0 1144.3 165.5 1144.8 167.9 1145.4 170.3 1145.9 172.7 1146.4 175.1 1146.8 177.5 1147.3 179.9 1147.8 182.3 1148.2 184.7 1148.7 187.1 1149.1 189.5 1149.5 191.9 1150.0 194.4 1150.4 196.8 1150.8 199.2 1151.3 201.7 1151.7 204.1 1152.1 206.6 1152.5 209.1 1152.9 211.5 1153.3 214.0 1153.7 216.5 1154.1 218.9 1154.5 221.4 1154.9 223.9 1155.2 226.4 1155.6 228.9 1156.0 231.4 1156.4 233.8 1156.7 236.3 1157.1 238.8 1157.5 241.3 1157.8 243.8 1158.2 246.3 1158.6 248.8 1158.9 251.3 1159.3 253.8 1159.6 256.3 1160.0 258.8 1160.3 261.3 1160.7 263.7 1161.1 266.2 1161.4 268.7 1161.8 271.2 1162.1 273.7 1162.5 276.1 1162.8 278.6 1163.1 281.1 1163.5 283.6 1163.8 286.0 1164.2 288.5 1164.5 291.0 1164.9 293.4 1165.2 295.9 1165.6 298.4 1165.9 300.8 1166.2 303.3 1166.6 305.8 1166.9 308.2 1167.2 310.7 1167.6 313.2 1167.9 315.6 1168.2 318.1 1168.6 320.6 1168.9 323.0 1169.2 325.5 1169.6 328.0 1169.9 330.4 1170.2 332.9 1170.5 335.4 1170.9 337.8 1171.2 340.3 1171.5 342.8 1171.8 345.3 1172.1 347.7 1172.5 350.2 1172.8 352.7 1173.1 355.2 1173.4 357.7 1173.7 360.1 1174.0 362.6 1174.3 365.1 1174.7 367.6 1175.0 370.1 1175.3 372.5 1175.6 375.0 1175.9 377.5 1176.2 380.0 1176.5 382.5 1176.8 385.0 1177.1 387.5 1177.4 390.0 1177.7 392.4 1178.0 394.9 1178.3 397.4 1178.6 399.9 1178.9 402.4 1179.2 404.9 1179.5 407.4 1179.9 409.9 1180.2 412.4 1180.5 414.9 1180.8 417.4 1181.1 419.8 1181.4 422.3 1181.7 424.8 1182.0 427.3 1182.3 429.8 1182.6 432.3 1182.9 434.8 1183.2 437.3 1183.5 439.8 1183.8 442.3 1184.1 444.8 1184.4 447.3 1184.7 449.8 1185.0 452.3 1185.3 454.7 1185.7 457.2 1186.0 459.7 1186.3 462.2 1186.6 464.7 1186.9 467.2 1187.2 469.7 1187.5 472.2 1187.8 474.7 1188.2 477.2 1188.5 479.6 1188.8 482.1 1189.1 484.6 1189.4 487.1 1189.8 489.6 1190.1 492.1 1190.4 494.6 1190.7 497.0 1191.1 499.5 1191.4 502.0 1191.7 504.5 1192.1 507.0 1192.4 509.5 1192.7 511.9 1193.1 514.4 1193.4 516.9 1193.7 519.4 1194.1 521.9 1194.4 524.3 1194.7 526.8 1195.1 529.3 1195.4 531.8 1195.8 534.2 1196.1 536.7 1196.4 539.2 1196.8 541.7 1197.1 544.1 1197.5 546.6 1197.8 549.1 1198.2 551.6 1198.5 554.0 1198.9 556.5 1199.2 559.0 1199.6 561.5 1199.9 563.9 1200.3 566.4 1200.6 568.9 1201.0 571.3 1201.3 573.8 1201.7 576.3 1202.1 578.7 1202.4 581.2 1202.8 583.7 1203.1 586.2 1203.5 588.6 1203.9 591.1 1204.2 593.6 1204.6 596.0 1204.9 598.5 1205.3 601.0 1205.7 603.4 1206.0 605.9 1206.4 608.4 1206.7 610.8 1207.1 613.3 1207.5 615.8 1207.8 618.2 1208.2 620.7 1208.6 623.2 1208.9 625.6 1209.3 628.1 1209.7 630.6 1210.0 633.0 1210.4 635.5 1210.8 638.0 1211.2 640.4 1211.5 642.9 1211.9 645.4 1212.3 647.8 1212.6 650.3 1213.0 652.8 1213.4 655.2 1213.7 657.7 1214.1 660.1 1214.5 662.6 1214.9 665.1 1215.2 667.5 1215.6 670.0 1216.0 672.5 1216.4 674.9 1216.7 677.4 1217.1 679.9 1217.5 682.3 1217.8 684.8 1218.2 687.3 1218.6 689.7 1219.0 692.2 1219.3 694.7 1219.7 697.1 1220.1 699.6 1220.5 702.1 1220.8 704.5 1221.2 707.0 1221.6 709.5 1222.0 711.9 1222.3 714.4 1222.7 716.9 1223.1 719.3 1223.4 721.8 1223.8 724.3 1224.2 726.7 1224.6 729.2 1224.9 731.7 1225.3 734.1 1225.7 736.6 1226.1 739.1 1226.4 741.6 1226.8 744.0 1227.2 746.5 1227.5 749.0 1227.9 751.4 1228.3 753.9 1228.7 756.4 1229.0 758.9 1229.4 761.3 1229.8 763.8 1230.1 766.3 1230.5 768.7 1230.9 771.2 1231.3 773.7 1231.6 776.2 1232.0 778.6 1232.4 781.1 1232.7 783.6 1233.1 786.1 1233.5 788.6 1233.8 791.0 1234.2 793.5 1234.6 796.0 1234.9 798.5 1235.3 800.9 1235.7 803.4 1236.0 805.9 1236.4 808.4 1236.8 810.9 1237.1 813.3 1237.5 815.8 1237.9 818.3 1238.2 820.8 1238.6 823.3 1239.0 825.7 1239.4 828.2 1239.7 830.7 1240.1 833.2 1240.5 835.7 1240.8 838.1 1241.2 840.6 1241.6 843.1 1242.0 845.6 1242.3 848.1 1242.7 850.5 1243.1 853.0 1243.4 855.5 1243.8 858.0 1244.2 860.5 1244.6 862.9 1245.0 865.4 1245.3 867.9 1245.7 870.4 1246.1 872.9 1246.5 875.3 1246.9 877.8 1247.2 880.3 1247.6 882.8 1248.0 885.3 1248.4 887.7 1248.8 890.2 1249.2 892.7 1249.6 895.2 1250.0 897.7 1250.4 900.1 1250.7 902.6 1251.1 905.1 1251.5 907.6 1251.9 910.1 1252.3 912.5 1252.7 915.0 1253.1 917.5 1253.5 920.0 1253.9 922.4 1254.3 924.9 1254.7 927.4 1255.2 929.9 1255.6 932.3 1256.0 934.8 1256.4 937.3 1256.8 939.8 1257.2 942.2 1257.6 944.7 1258.1 947.2 1258.5 949.7 1258.9 952.1 1259.3 954.6 1259.8 957.1 1260.2 959.6 1260.6 962.0 1261.0 964.5 1261.5 967.0 1261.9 969.4 1262.4 971.9 1262.8 974.4 1263.2 976.8 1263.7 979.3 1264.1 981.8 1264.6 984.2 1265.0 986.7 1265.5 989.2 1265.9 991.6 1266.4 994.1 1266.8 996.6 1267.3 999.0 1267.8 1001.5 1268.2 1004.0 1268.7 1006.4 1269.2 1008.9 1269.7 1011.3 1270.1 1013.8 1270.6 1016.3 1271.1 1018.7 1271.6 1021.2 1272.1 1023.6 1272.5 1026.1 1273.0 1028.5 1273.5 1031.0 1274.0 1033.4 1274.5 1035.9 1275.0 1038.4 1275.5 1040.8 1276.0 1043.3 1276.6 1045.7 1277.1 1048.2 1277.6 1050.6 1278.1 1053.0 1278.6 1055.5 1279.2 1057.9 1279.7 1060.4 1280.2 1062.8 1280.7 1065.3 1281.3 1067.7 1281.8 1070.2 1282.4 1072.6 1282.9 1075.0 1283.5 1077.5 1284.0 1079.9 1284.6 1082.3 1285.1 1084.8 1285.7 1087.2 1286.3 1089.6 1286.8 1092.1 1287.4 1094.5 1288.0 1096.9 1288.6 1099.4 1289.2 1101.8 1289.7 1104.2 1290.3 1106.6 1290.9 1109.1 1291.5 1111.5 1292.1 1113.9 1292.7 1116.3 1293.3 1118.8 1294.0 1121.2 1294.6 1123.6 1295.2 1126.0 1295.8 1128.4 1296.4 1130.8 1297.1 1133.3 1297.7 1135.7 1298.3 1138.1 1299.0 1140.5 1299.6 1142.9 1300.3 1145.3 1300.9 1147.7 1301.6 1150.1 1302.3 1152.5 1302.9 1154.9 1303.6 1157.3 1304.3 1159.7 1305.0 1162.1 1305.6 1164.5 1306.3 1166.9 1307.0 1169.3 1307.7 1171.7 1308.4 1174.1 1309.1 1176.5 1309.8 1178.9 1310.6 1181.3 1311.3 1183.6 1312.0 1186.0 1312.7 1188.4 1313.5 1190.8 1314.2 1193.2 1314.9 1195.6 1315.7 1197.9 1316.4 1200.3 1317.2 1202.7 1318.0 1205.1 1318.7 1207.4 1319.5 1209.8 1320.3 1212.2 1321.0 1214.5 1321.8 1216.9 1322.6 1219.3 1323.4 1221.6 1324.2 1224.0 1325.0 1226.3 1325.8 1228.7 1326.6 1231.1 1327.5 1233.4 1328.3 1235.8 1329.1 1238.1 1329.9 1240.5 1330.8 1242.8 1331.6 1245.1 1332.5 1247.5 1333.3 1249.8 1334.2 1252.2 1335.1 1254.5 1335.9 1256.9 1336.8 1259.2 1337.7 1261.5 1338.6 1263.9 1339.5 1266.2 1340.4 1268.5 1341.3 1270.8 1342.2 1273.2 1343.1 1275.5 1344.0 1277.8 1344.9 1280.1 1345.9 1282.4 1346.8 1284.8 1347.8 1287.1 1348.7 1289.4 1349.7 1291.7 1350.6 1294.0 1351.6 1296.3 1352.6 1298.6 1353.5 1300.9 1354.5 1303.2 1355.5 1305.5 1356.5 1307.8 1357.5 1310.1 1358.5 1312.4 1359.5 1314.7 1360.5 1317.0 1361.6 1319.2 1362.6 1321.5 1363.6 1323.8 1364.7 1326.1 1365.7 1328.4 1366.8 1330.6 1367.9 1332.9 1368.9 1335.2 1370.0 1337.5 1371.1 1339.7 1372.2 1342.0 1373.3 1344.2 1374.4 1346.5 1375.5 1348.8 1376.6 1351.0 1377.7 1353.3 1378.8 1355.5 1380.0 1357.8 1381.1 1360.0 1382.3 1362.3 1383.4 1364.5 1384.6 1366.7 1385.8 1368.9 1387.0 1371.2 1388.2 1373.4 1389.4 1375.6 1390.6 1377.8 1391.8 1380.0 1393.1 1382.1 1394.3 1384.3 1395.6 1386.5 1396.9 1388.6 1398.2 1390.8 1399.5 1392.9 1400.8 1395.0 1402.2 1397.1 1403.5 1399.2 1404.9 1401.3 1406.3 1403.4 1407.7 1405.4 1409.1 1407.5 1410.6 1409.5 1412.0 1411.5 1413.5 1413.5 1415.0 1415.5 1416.5 1417.4 1418.0 1419.4 1419.6 1421.3 1421.2 1423.2 1422.8 1425.1 1424.4 1427.0 1426.0 1428.8 1427.7 1430.6 1429.4 1432.5 1431.1 1434.2 1432.8 1436.0 1434.6 1437.7 1436.4 1439.5 1438.2 1441.2 1440.0 1442.8 1441.9 1444.5 1443.8 1446.1 1445.7 1447.7 1447.6 1449.3 1449.6 1450.9 1451.6 1452.4 1453.6 1453.9 1455.6 1455.4 1457.6 1456.9 1459.7 1458.3 1461.8 1459.7 1463.9 1461.1 1466.0 1462.5 1468.1 1463.8 1470.3 1465.2 1472.4 1466.5 1474.6 1467.8 1476.8 1469.0 1479.0 1470.3 1481.2 1471.5 1483.5 1472.7 1485.7 1473.9 1488.0 1475.1 1490.2 1476.2 1492.5 1477.4 1494.8 1478.5 1497.1 1479.6 1499.4 1480.6 1501.7 1481.7 1504.0 1482.7 1506.3 1483.7 1508.6 1484.7 1510.9 1485.7 1513.2 1486.7 1515.5 1487.6 1517.9 1488.6 1520.2 1489.5 1522.5 1490.4 1524.8 1491.2 1527.1 1492.1 1529.5 1493.0 1531.8 1493.8 1534.1 1494.6 1536.4 1495.4 1538.7 1496.2 1541.0 1497.0 1543.4 1497.8 1545.7 1498.6 1548.0 1499.4 1550.3 1500.1 1552.7 1500.9 1555.0 1501.7 1557.4 1502.5 1559.7 1503.2 1562.1 1504.0 1564.4 1504.8 1566.8 1505.6 1569.2 1506.3 1571.5 1507.1 1573.9 1507.9 1576.3 1508.8 1578.7 1509.6 1581.1 1510.4 1583.6 1511.3 1586.0 1512.1 1588.4 1512.9 1590.9 1513.7 1593.3 1514.4 1595.8 1515.0 1598.3 1515.6 1600.7 1516.0 1603.2 1516.4 1605.7 1516.5 1608.1 1516.6 1610.6 1516.5 1613.1 1516.3 1615.5 1516.0 1618.0 1515.7 1620.5 1515.5 1622.9 1515.2 1625.4 1515.1 1627.9 1515.1 1630.4 1515.2 1632.9 1515.5 1635.4 1516.0 1638.0 1516.7 1640.5 1517.6 1643.0 1518.5 1645.5 1519.5 1648.0 1520.6 1650.5 1521.8 1653.0 1522.9 1655.4 1524.0 1657.8 1525.1 1660.2 1526.1 1662.6 1527.1 1664.9 1527.8 1667.2 1528.5 1669.5 1528.9 1671.7 1529.2 1673.9 1529.2 1676.0 1529.0 1678.1 1528.5 1680.1 1527.7 1682.0 1526.7 1683.9 1525.4 1685.8 1524.0 1687.5 1522.4 1689.2 1520.5 1690.8 1518.6 1692.3 1516.5 1693.8 1514.4 1695.1 1512.1 1696.4 1509.8 1697.6 1507.5 1698.6 1505.1 1699.6 1502.8 1700.5 1500.5 1701.3 1498.2 1702.0 1495.9 1702.7 1493.6 1703.4 1491.3 1704.1 1489.0 1704.8 1486.6 1705.6 1484.2 1706.4 1481.7 1707.4 1479.0 1708.5 1476.3 1709.8 1473.6 1711.1 1470.8 1712.6 1468.2 1714.2 1465.6 1715.9 1463.3 1717.7 1461.2 1719.5 1459.5 1721.4 1458.2 1723.2 1457.5 1725.0 1457.4 1726.8 1457.8 1728.5 1458.6 1730.2 1459.8 1731.8 1461.3 1733.5 1463.1 1735.1 1465.1 1736.8 1467.2 1738.4 1469.3 1740.0 1471.5 1741.6 1473.6 1743.2 1475.7 1744.9 1477.8 1746.5 1479.8 1748.1 1481.8 1749.8 1483.8 1751.4 1485.7 1753.0 1487.7 1754.7 1489.6 1756.3 1491.5 1758.0 1493.4 1759.6 1495.2 1761.2 1497.1 1762.9 1499.0 1764.5 1500.8 1766.1 1502.7 1767.8 1504.5 1769.4 1506.4 1771.1 1508.2 1772.8 1510.1 1774.5 1512.0 1776.2 1513.8 1777.9 1515.7 1779.7 1517.5 1781.5 1519.4 1783.3 1521.2 1785.1 1523.1 1787.1 1524.9 1789.0 1526.8 1791.0 1528.6 1793.0 1530.2 1795.0 1531.7 1797.1 1532.9 1799.1 1533.7 1801.1 1534.1 1803.1 1534.0 1805.1 1533.4 1807.0 1532.4 1808.8 1531.1 1810.7 1529.4 1812.4 1527.5 1814.1 1525.5 1815.7 1523.4 1817.2 1521.2 1818.7 1519.0 1820.0 1516.8 1821.3 1514.5 1822.5 1512.2 1823.7 1509.9 1824.8 1507.6 1825.8 1505.2 1826.7 1502.9 1827.6 1500.5 1828.5 1498.0 1829.2 1495.6 1830.0 1493.2 1830.7 1490.7 1831.3 1488.2 1831.9 1485.8 1832.4 1483.3 1832.9 1480.8 1833.4 1478.3 1833.8 1475.8 1834.2 1473.4 1834.6 1470.9 1835.0 1468.4 1835.3 1465.9 1835.6 1463.5 1835.9 1461.0 1836.1 1458.6 1836.4 1456.2 1836.6 1453.8 1836.9 1451.4 1837.1 1449.0 1837.3 1446.6 1837.5 1444.3 1837.7 1442.0 1837.9 1439.7 1838.1 1437.4 1838.3 1435.1 1838.5 1432.7 1838.6 1430.3 1838.8 1427.9 1838.9 1425.5 1838.9 1423.0 1839.0 1420.4 1839.0 1417.7 1839.0 1415.0 1839.1 1412.2 1839.3 1409.4 1839.6 1406.4 1840.0 1403.4 1840.6 1400.4 1841.4 1397.4 1842.3 1394.5 1843.4 1391.8 1844.5 1389.3 1845.8 1387.0 1847.1 1385.1 1848.5 1383.6 1849.9 1382.5 1851.3 1382.0 1852.7 1382.0 1854.2 1382.6 1855.6 1383.7 1857.0 1385.2 1858.4 1387.1 1859.7 1389.4 1860.9 1391.8 1862.2 1394.5 1863.3 1397.3 1864.4 1400.2 1865.3 1403.2 1866.2 1406.1 1867.0 1408.9 1867.7 1411.7 1868.3 1414.4 1868.8 1417.1 1869.2 1419.7 1869.6 1422.3 1869.9 1424.8 1870.2 1427.3 1870.4 1429.8 1870.5 1432.3 1870.7 1434.7 1870.8 1437.1 1870.9 1439.5 1870.9 1441.9 1871.0 1444.3 1871.0 1446.7 1871.1 1449.1 1871.2 1451.4 1871.3 1453.8 1871.3 1456.2 1871.5 1458.7 1871.6 1461.1 1871.7 1463.5 1871.8 1466.0 1872.0 1468.4 1872.2 1470.8 1872.3 1473.3 1872.5 1475.8 1872.7 1478.2 1872.9 1480.7 1873.1 1483.2 1873.3 1485.7 1873.5 1488.1 1873.8 1490.6 1874.0 1493.1 1874.3 1495.6 1874.5 1498.1 1874.8 1500.6 1875.0 1503.1 1875.3 1505.7 1875.6 1508.2 1875.9 1510.7 1876.1 1513.2 1876.4 1515.7 1876.7 1518.3 1877.0 1520.8 1877.3 1523.3 1877.6 1525.8 1877.9 1528.3 1878.2 1530.9 1878.5 1533.4 1878.9 1535.9 1879.2 1538.4 1879.5 1541.0 1879.8 1543.5 1880.1 1546.0 1880.4 1548.5 1880.8 1551.1 1881.1 1553.6 1881.4 1556.1 1881.7 1558.6 1882.0 1561.1 1882.3 1563.6 1882.6 1566.1 1882.9 1568.6 1883.2 1571.1 1883.5 1573.6 1883.8 1576.1 1884.1 1578.6 1884.4 1581.0 1884.7 1583.5 1885.0 1586.0 1885.2 1588.4 1885.5 1590.9 1885.8 1593.3 1886.0 1595.8 1886.3 1598.2 1886.5 1600.6 1886.8 1603.1 1887.0 1605.5 1887.2 1607.9 1887.4 1610.3 1887.6 1612.7 1887.8 1615.1 1888.0 1617.5 1888.2 1619.9 1888.4 1622.3 1888.6 1624.7 1888.8 1627.1 1889.0 1629.6 1889.1 1632.0 1889.3 1634.4 1889.5 1636.9 1889.6 1639.4 1889.8 1641.9 1890.0 1644.4 1890.1 1646.9 1890.3 1649.5 1890.5 1652.0 1890.6 1654.6 1890.8 1657.2 1891.0 1659.9 1891.1 1662.6 1891.3 1665.3 1891.5 1668.0 1891.7 1670.7 1892.0 1673.4 1892.3 1676.1 1892.7 1678.8 1893.1 1681.5 1893.5 1684.1 1894.1 1686.7 1894.7 1689.2 1895.5 1691.7 1896.3 1694.1 1897.2 1696.5 1898.3 1698.7 1899.4 1700.9 1900.8 1703.0 1902.2 1705.0 1903.8 1706.9 1905.5 1708.7 1907.4 1710.2 1909.3 1711.6 1911.3 1712.8 1913.3 1713.7 1915.4 1714.3 1917.4 1714.6 1919.4 1714.6 1921.4 1714.2 1923.3 1713.3 1925.1 1712.0 1926.7 1710.3 1928.2 1708.0 1929.6 1705.3 1930.8 1702.4 1931.9 1699.2 1932.9 1696.0 1933.7 1692.8 1934.5 1689.7 1935.1 1686.8 1935.7 1684.0 1936.2 1681.4 1936.8 1678.8 1937.4 1676.2 1938.0 1673.6 1938.8 1671.1 1939.6 1668.5 1940.6 1665.8 1941.7 1663.1 1943.0 1660.5 1944.3 1658.0 1945.7 1655.6 1947.2 1653.4 1948.7 1651.4 1950.2 1649.7 1951.8 1648.3 1953.4 1647.4 1955.0 1646.8 1956.5 1646.7 1958.1 1647.1 1959.6 1648.1 1961.0 1649.7 1962.3 1651.8 1963.6 1654.2 1964.9 1657.0 1966.0 1660.0 1967.1 1663.1 1968.1 1666.3 1969.1 1669.5 1970.0 1672.5 1970.8 1675.3 1971.6 1677.9 1972.3 1680.4 1973.1 1682.8 1973.8 1685.1 1974.5 1687.2 1975.3 1689.2 1976.1 1691.2 1976.9 1693.1 1977.8 1694.9 1978.8 1696.7 1979.9 1698.4 1981.1 1700.2 1982.4 1701.9 1983.9 1703.6 1985.5 1705.4 1987.3 1707.2 1989.3 1709.0 1991.5 1710.9 1993.9 1712.9 1996.5 1715.0" stroke="#00ff00"/>
<path d="M66.3 1564.0 L68.8 1564.0 71.3 1564.0 73.8 1564.1 76.3 1564.1 78.8 1564.1 81.2 1564.1 83.7 1564.1 86.2 1564.1 88.7 1564.1 91.2 1564.2 93.7 1564.2 96.2 1564.2 98.6 1564.2 101.1 1564.2 103.6 1564.2 106.1 1564.2 108.6 1564.2 111.1 1564.2 113.6 1564.3 116.1 1564.3 118.6 1564.3 121.0 1564.3 123.5 1564.3 126.0 1564.3 128.5 1564.3 131.0 1564.3 133.5 1564.3 136.0 1564.4 138.5 1564.4 141.0 1564.4 143.5 1564.4 146.0 1564.4 148.4 1564.4 150.9 1564.4 153.4 1564.4 155.9 1564.4 158.4 1564.4 160.9 1564.4 163.4 1564.4 165.9 1564.5 168.4 1564.5 170.9 1564.5 173.4 1564.5 175.9 1564.5 178.4 1564.5 180.9 1564.5 183.4 1564.5 185.9 1564.5 188.4 1564.5 190.9 1564.5 193.3 1564.5 195.8 1564.5 198.3 1564.5 200.8 1564.5 203.3 1564.5 205.8 1564.6 208.3 1564.6 210.8 1564.6 213.3 1564.6 215.8 1564.6 218.3 1564.6 220.8 1564.6 223.3 1564.6 225.8 1564.6 228.3 1564.6 230.8 1564.6 233.3 1564.6 235.8 1564.6 238.3 1564.6 240.8 1564.6 243.3 1564.6 245.8 1564.6 248.3 1564.6 250.8 1564.6 253.3 1564.6 255.8 1564.6 258.3 1564.6 260.8 1564.6 263.3 1564.6 265.8 1564.6 268.3 1564.6 270.8 1564.6 273.3 1564.6 275.8 1564.6 278.3 1564.6 280.8 1564.6 283.3 1564.6 285.8 1564.6 288.3 1564.6 290.8 1564.6 293.3 1564.6 295.8 1564.6 298.3 1564.6 300.8 1564.7 303.3 1564.7 305.8 1564.7 308.3 1564.7 310.8 1564.7 313.3 1564.7 315.8 1564.7 318.3 1564.7 320.8 1564.7 323.4 1564.7 325.9 1564.7 328.4 1564.7 330.9 1564.6 333.4 1564.6 335.9 1564.6 338.4 1564.6 340.9 1564.6 343.4 1564.6 345.9 1564.6 348.4 1564.6 350.9 1564.6 353.4 1564.6 355.9 1564.6 358.4 1564.6 360.9 1564.6 363.4 1564.6 365.9 1564.6 368.4 1564.6 370.9 1564.6 373.4 1564.6 375.9 1564.6 378.4 1564.6 380.9 1564.6 383.4 1564.6 385.9 1564.6 388.4 1564.6 391.0 1564.6 393.5 1564.6 396.0 1564.6 398.5 1564.6 401.0 1564.6 403.5 1564.6 406.0 1564.6 408.5 1564.6 411.0 1564.6 413.5 1564.6 416.0 1564.6 418.5 1564.6 421.0 1564.6 423.5 1564.6 426.0 1564.6 428.5 1564.6 431.0 1564.6 433.5 1564.6 436.0 1564.6 438.5 1564.6 441.0 1564.6 443.5 1564.6 446.0 1564.6 448.5 1564.6 451.0 1564.6 453.6 1564.6 456.1 1564.6 458.6 1564.5 461.1 1564.5 463.6 1564.5 466.1 1564.5 468.6 1564.5 471.1 1564.5 473.6 1564.5 476.1 1564.5 478.6 1564.5 481.1 1564.5 483.6 1564.5 486.1 1564.5 488.6 1564.5 491.1 1564.5 493.6 1564.5 496.1 1564.5 498.6 1564.5 501.1 1564.5 503.6 1564.5 506.1 1564.5 508.6 1564.5 511.1 1564.5 513.6 1564.5 516.1 1564.5 518.6 1564.5 521.1 1564.5 523.6 1564.5 526.1 1564.5 528.6 1564.5 531.1 1564.5 533.6 1564.5 536.1 1564.5 538.6 1564.5 541.1 1564.5 543.6 1564.4 546.1 1564.4 548.6 1564.4 551.1 1564.4 553.6 1564.4 556.2 1564.4 558.7 1564.4 561.2 1564.4 563.7 1564.4 566.2 1564.4 568.7 1564.4 571.1 1564.4 573.6 1564.4 576.1 1564.4 578.6 1564.4 581.1 1564.4 583.6 1564.4 586.1 1564.4 588.6 1564.4 591.1 1564.4 593.6 1564.4 596.1 1564.4 598.6 1564.4 601.1 1564.4 603.6 1564.4 606.1 1564.4 608.6 1564.4 611.1 1564.4 613.6 1564.4 616.1 1564.4 618.6 1564.4 621.1 1564.4 623.6 1564.4 626.1 1564.4 628.6 1564.4 631.1 1564.4 633.6 1564.4 636.1 1564.4 638.6 1564.4 641.1 1564.4 643.6 1564.4 646.1 1564.4 648.6 1564.4 651.1 1564.4 653.5 1564.4 656.0 1564.4 658.5 1564.4 661.0 1564.4 663.5 1564.4 666.0 1564.4 668.5 1564.4 671.0 1564.4 673.5 1564.4 676.0 1564.4 678.5 1564.4 681.0 1564.4 683.5 1564.4 685.9 1564.4 688.4 1564.4 690.9 1564.4 693.4 1564.4 695.9 1564.4 698.4 1564.4 700.9 1564.4 703.4 1564.4 705.9 1564.4 708.4 1564.4 710.8 1564.4 713.3 1564.4 715.8 1564.4 718.3 1564.4 720.8 1564.4 723.3 1564.4 725.8 1564.4 728.2 1564.4 730.7 1564.4 733.2 1564.4 735.7 1564.4 738.2 1564.4 740.7 1564.4 743.2 1564.4 745.6 1564.5 748.1 1564.5 750.6 1564.5 753.1 1564.5 755.6 1564.5 758.1 1564.5 760.6 1564.5 763.1 1564.5 765.5 1564.5 768.0 1564.5 770.5 1564.5 773.0 1564.5 775.5 1564.5 778.0 1564.6 780.5 1564.6 783.0 1564.6 785.6 1564.6 788.1 1564.6 790.6 1564.7 793.1 1564.7 795.6 1564.7 798.2 1564.7 800.7 1564.8 803.3 1564.8 805.8 1564.8 808.4 1564.9 810.9 1564.9 813.5 1564.9 816.1 1565.0 818.6 1565.0 821.2 1565.1 823.8 1565.1 826.4 1565.2 829.0 1565.2 831.6 1565.3 834.2 1565.4 836.9 1565.4 839.5 1565.5 842.1 1565.6 844.8 1565.6 847.4 1565.7 850.1 1565.7 852.7 1565.7 855.3 1565.7 857.9 1565.7 860.5 1565.7 863.1 1565.6 865.7 1565.5 868.3 1565.4 870.8 1565.2 873.3 1565.1 875.8 1564.8 878.3 1564.6 880.8 1564.2 883.2 1563.9 885.6 1563.5 888.0 1563.0 890.3 1562.5 892.6 1561.9 894.8 1561.2 897.1 1560.5 899.2 1559.8 901.4 1558.9 903.5 1558.0 905.5 1557.0 907.5 1556.0 909.5 1554.8 911.4 1553.6 913.2 1552.3 915.0 1550.9 916.7 1549.4 918.4 1547.9 920.0 1546.2 921.6 1544.5 923.1 1542.7 924.6 1540.9 926.0 1539.0 927.4 1537.0 928.7 1535.0 930.0 1532.9 931.3 1530.8 932.5 1528.6 933.7 1526.4 934.8 1524.1 935.9 1521.8 937.0 1519.5 938.0 1517.1 939.0 1514.7 940.0 1512.3 940.9 1509.8 941.8 1507.4 942.7 1504.9 943.5 1502.4 944.3 1499.9 945.1 1497.4 945.9 1494.8 946.6 1492.3 947.3 1489.8 948.0 1487.3 948.7 1484.8 949.3 1482.3 950.0 1479.8 950.6 1477.3 951.2 1474.8 951.8 1472.3 952.3 1469.9 952.9 1467.4 953.4 1464.9 953.9 1462.5 954.4 1460.0 954.9 1457.5 955.4 1455.1 955.8 1452.6 956.3 1450.2 956.7 1447.7 957.1 1445.3 957.6 1442.8 958.0 1440.4 958.4 1437.9 958.7 1435.5 959.1 1433.0 959.5 1430.6 959.9 1428.1 960.2 1425.7 960.6 1423.3 960.9 1420.8 961.3 1418.4 961.6 1415.9 962.0 1413.5 962.3 1411.0 962.7 1408.6 963.0 1406.1 963.3 1403.7 963.7 1401.2 964.0 1398.8 964.3 1396.3 964.6 1393.9 965.0 1391.4 965.3 1388.9 965.6 1386.5 965.9 1384.0 966.2 1381.6 966.5 1379.1 966.8 1376.6 967.1 1374.2 967.4 1371.7 967.7 1369.2 968.0 1366.8 968.3 1364.3 968.6 1361.8 968.9 1359.4 969.2 1356.9 969.5 1354.4 969.8 1352.0 970.0 1349.5 970.3 1347.0 970.6 1344.5 970.9 1342.1 971.1 1339.6 971.4 1337.1 971.7 1334.6 971.9 1332.2 972.2 1329.7 972.5 1327.2 972.7 1324.7 973.0 1322.2 973.3 1319.8 973.5 1317.3 973.8 1314.8 974.0 1312.3 974.3 1309.8 974.5 1307.4 974.8 1304.9 975.0 1302.4 975.2 1299.9 975.5 1297.4 975.7 1294.9 976.0 1292.4 976.2 1289.9 976.4 1287.5 976.7 1285.0 976.9 1282.5 977.1 1280.0 977.4 1277.5 977.6 1275.0 977.8 1272.5 978.0 1270.0 978.3 1267.5 978.5 1265.0 978.7 1262.5 978.9 1260.1 979.1 1257.6 979.3 1255.1 979.6 1252.6 979.8 1250.1 980.0 1247.6 980.2 1245.1 980.4 1242.6 980.6 1240.1 980.8 1237.6 981.0 1235.1 981.2 1232.6 981.4 1230.1 981.6 1227.6 981.8 1225.1 982.0 1222.6 982.2 1220.1 982.4 1217.6 982.6 1215.1 982.8 1212.6 983.0 1210.1 983.2 1207.6 983.4 1205.1 983.6 1202.6 983.8 1200.1 984.0 1197.6 984.2 1195.1 984.3 1192.6 984.5 1190.1 984.7 1187.6 984.9 1185.1 985.1 1182.6 985.3 1180.1 985.5 1177.6 985.6 1175.1 985.8 1172.6 986.0 1170.1 986.2 1167.6 986.4 1165.1 986.5 1162.6 986.7 1160.1 986.9 1157.6 987.1 1155.1 987.3 1152.6 987.4 1150.1 987.6 1147.6 987.8 1145.1 988.0 1142.6 988.1 1140.1 988.3 1137.6 988.5 1135.1 988.7 1132.6 988.8 1130.1 989.0 1127.6 989.2 1125.1 989.3 1122.6 989.5 1120.1 989.7 1117.6 989.9 1115.1 990.0 1112.6 990.2 1110.1 990.4 1107.6 990.6 1105.1 990.7 1102.6 990.9 1100.1 991.1 1097.6 991.2 1095.1 991.4 1092.6 991.6 1090.1 991.7 1087.6 991.9 1085.1 992.1 1082.6 992.3 1080.1 992.4 1077.6 992.6 1075.1 992.8 1072.6 992.9 1070.1 993.1 1067.6 993.3 1065.1 993.4 1062.6 993.6 1060.1 993.8 1057.6 993.9 1055.1 994.1 1052.6 994.3 1050.1 994.4 1047.6 994.6 1045.1 994.8 1042.6 994.9 1040.1 995.1 1037.7 995.3 1035.2 995.4 1032.7 995.6 1030.2 995.8 1027.7 995.9 1025.2 996.1 1022.7 996.3 1020.2 996.4 1017.7 996.6 1015.2 996.8 1012.7 996.9 1010.2 997.1 1007.7 997.3 1005.2 997.4 1002.7 997.6 1000.2 997.7 997.7 997.9 995.3 998.1 992.8 998.2 990.3 998.4 987.8 998.6 985.3 998.7 982.8 998.9 980.3 999.0 977.8 999.2 975.3 999.4 972.8 999.5 970.3 999.7 967.8 999.9 965.3 1000.0 962.9 1000.2 960.4 1000.3 957.9 1000.5 955.4 1000.7 952.9 1000.8 950.4 1001.0 947.9 1001.1 945.4 1001.3 942.9 1001.5 940.4 1001.6 937.9 1001.8 935.4 1001.9 932.9 1002.1 930.5 1002.3 928.0 1002.4 925.5 1002.6 923.0 1002.7 920.5 1002.9 918.0 1003.1 915.5 1003.2 913.0 1003.4 910.5 1003.5 908.0 1003.7 905.5 1003.8 903.0 1004.0 900.6 1004.2 898.1 1004.3 895.6 1004.5 893.1 1004.6 890.6 1004.8 888.1 1004.9 885.6 1005.1 883.1 1005.3 880.6 1005.4 878.1 1005.6 875.6 1005.7 873.1 1005.9 870.6 1006.0 868.2 1006.2 865.7 1006.3 863.2 1006.5 860.7 1006.7 858.2 1006.8 855.7 1007.0 853.2 1007.1 850.7 1007.3 848.2 1007.4 845.7 1007.6 843.2 1007.7 840.7 1007.9 838.2 1008.0 835.7 1008.2 833.3 1008.4 830.8 1008.5 828.3 1008.7 825.8 1008.8 823.3 1009.0 820.8 1009.1 818.3 1009.3 815.8 1009.4 813.3 1009.6 810.8 1009.7 808.3 1009.9 805.8 1010.0 803.3 1010.2 800.8 1010.3 798.3 1010.5 795.8 1010.6 793.3 1010.8 790.8 1010.9 788.3 1011.1 785.9 1011.3 783.4 1011.4 780.9 1011.6 778.4 1011.7 775.9 1011.9 773.4 1012.0 770.9 1012.2 768.4 1012.3 765.9 1012.5 763.4 1012.6 760.9 1012.8 758.4 1012.9 755.9 1013.1 753.4 1013.2 750.9 1013.4 748.4 1013.5 745.9 1013.7 743.4 1013.8 740.9 1014.0 738.4 1014.1 735.9 1014.3 733.4 1014.4 730.9 1014.6 728.4 1014.7 725.9 1014.9 723.4 1015.0 720.9 1015.2 718.4 1015.3 715.9 1015.5 713.4 1015.6 710.9 1015.8 708.4 1015.9 705.9 1016.1 703.4 1016.2 700.9 1016.4 698.4 1016.5 696.0 1016.7 693.5 1016.8 691.0 1017.0 688.5 1017.1 686.0 1017.3 683.5 1017.4 681.0 1017.6 678.5 1017.7 676.0 1017.9 673.5 1018.0 671.0 1018.2 668.5 1018.3 666.0 1018.5 663.5 1018.6 661.0 1018.8 658.5 1018.9 656.0 1019.1 653.5 1019.2 651.0 1019.4 648.5 1019.5 646.0 1019.7 643.5 1019.9 641.0 1020.0 638.5 1020.2 636.0 1020.3 633.5 1020.5 631.0 1020.6 628.5 1020.8 626.0 1020.9 623.5 1021.1 621.0 1021.2 618.5 1021.4 616.0 1021.5 613.5 1021.7 611.0 1021.8 608.5 1022.0 606.0 1022.2 603.5 1022.3 601.0 1022.5 598.5 1022.6 596.0 1022.8 593.5 1022.9 591.0 1023.1 588.5 1023.2 586.0 1023.4 583.5 1023.6 581.0 1023.7 578.5 1023.9 576.0 1024.0 573.5 1024.2 571.0 1024.3 568.5 1024.5 566.1 1024.7 563.6 1024.8 561.1 1025.0 558.6 1025.1 556.1 1025.3 553.6 1025.5 551.1 1025.6 548.6 1025.8 546.1 1025.9 543.6 1026.1 541.1 1026.3 538.6 1026.4 536.1 1026.6 533.6 1026.7 531.1 1026.9 528.6 1027.1 526.1 1027.2 523.6 1027.4 521.1 1027.6 518.6 1027.7 516.1 1027.9 513.6 1028.1 511.2 1028.2 508.7 1028.4 506.2 1028.5 503.7 1028.7 501.2 1028.9 498.7 1029.0 496.2 1029.2 493.7 1029.4 491.2 1029.6 488.7 1029.7 486.2 1029.9 483.7 1030.1 481.2 1030.2 478.7 1030.4 476.2 1030.6 473.8 1030.7 471.3 1030.9 468.8 1031.1 466.3 1031.3 463.8 1031.4 461.3 1031.6 458.8 1031.8 456.3 1031.9 453.8 1032.1 451.3 1032.3 448.8 1032.5 446.3 1032.6 443.9 1032.8 441.4 1033.0 438.9 1033.2 436.4 1033.4 433.9 1033.5 431.4 1033.7 428.9 1033.9 426.4 1034.1 423.9 1034.2 421.4 1034.4 418.9 1034.6 416.4 1034.8 414.0 1035.0 411.5 1035.2 409.0 1035.3 406.5 1035.5 404.0 1035.7 401.5 1035.9 399.0 1036.1 396.5 1036.3 394.0 1036.5 391.5 1036.6 389.0 1036.8 386.5 1037.0 384.1 1037.2 381.6 1037.4 379.1 1037.6 376.6 1037.8 374.1 1038.0 371.6 1038.2 369.1 1038.4 366.6 1038.6 364.1 1038.8 361.6 1039.0 359.1 1039.2 356.6 1039.4 354.1 1039.6 351.6 1039.8 349.1 1040.0 346.6 1040.2 344.2 1040.4 341.7 1040.6 339.2 1040.8 336.7 1041.0 334.2 1041.2 331.7 1041.4 329.2 1041.6 326.7 1041.8 324.2 1042.0 321.7 1042.2 319.2 1042.4 316.7 1042.6 314.2 1042.9 311.7 1043.1 309.2 1043.3 306.7 1043.5 304.2 1043.7 301.7 1044.0 299.2 1044.2 296.7 1044.4 294.2 1044.7 291.7 1044.9 289.2 1045.1 286.8 1045.4 284.3 1045.6 281.8 1045.9 279.3 1046.1 276.8 1046.4 274.3 1046.6 271.8 1046.9 269.3 1047.2 266.8 1047.4 264.4 1047.7 261.9 1048.0 259.4 1048.3 256.9 1048.6 254.4 1048.9 251.9 1049.2 249.5 1049.5 247.0 1049.8 244.5 1050.1 242.0 1050.4 239.6 1050.7 237.1 1051.1 234.6 1051.4 232.2 1051.7 229.7 1052.1 227.2 1052.4 224.7 1052.7 222.3 1053.1 219.8 1053.4 217.3 1053.8 214.9 1054.1 212.4 1054.5 209.9 1054.8 207.5 1055.2 205.0 1055.5 202.5 1055.9 200.0 1056.3 197.6 1056.6 195.1 1057.0 192.6 1057.3 190.2 1057.7 187.7 1058.1 185.2 1058.4 182.7 1058.8 180.2 1059.1 177.8 1059.5 175.3 1059.9 172.8 1060.3 170.3 1060.8 167.8 1061.3 165.3 1061.9 162.9 1062.6 160.4 1063.4 157.9 1064.2 155.4 1065.2 152.9 1066.4 150.4 1067.6 147.9 1069.0 145.6 1070.5 143.5 1072.0 141.8 1073.6 140.8 1075.1 140.6 1076.5 141.1 1077.9 142.4 1079.3 144.2 1080.6 146.5 1081.8 149.1 1082.9 152.0 1084.0 155.0 1085.0 158.1 1085.9 161.1 1086.8 164.0 1087.6 166.8 1088.3 169.5 1088.9 172.1 1089.5 174.6 1090.0 177.0 1090.5 179.4 1090.9 181.7 1091.3 184.0 1091.7 186.2 1092.1 188.4 1092.4 190.6 1092.7 192.8 1093.1 195.0 1093.4 197.2 1093.7 199.5 1094.1 201.7 1094.5 204.1 1094.8 206.4 1095.2 208.8 1095.6 211.3 1096.0 213.7 1096.4 216.2 1096.8 218.7 1097.2 221.2 1097.7 223.7 1098.1 226.2 1098.5 228.7 1098.9 231.3 1099.4 233.8 1099.8 236.3 1100.2 238.9 1100.6 241.4 1101.0 243.9 1101.4 246.4 1101.8 249.0 1102.2 251.5 1102.6 254.0 1103.0 256.5 1103.4 259.0 1103.8 261.5 1104.1 264.0 1104.5 266.5 1104.9 269.0 1105.3 271.6 1105.7 274.1 1106.0 276.6 1106.4 279.0 1106.8 281.5 1107.1 284.0 1107.5 286.5 1107.9 289.0 1108.2 291.5 1108.6 294.0 1108.9 296.5 1109.3 299.0 1109.6 301.5 1110.0 304.0 1110.3 306.4 1110.7 308.9 1111.0 311.4 1111.3 313.9 1111.7 316.4 1112.0 318.8 1112.3 321.3 1112.7 323.8 1113.0 326.3 1113.3 328.8 1113.7 331.2 1114.0 333.7 1114.3 336.2 1114.6 338.7 1115.0 341.1 1115.3 343.6 1115.6 346.1 1115.9 348.6 1116.3 351.0 1116.6 353.5 1116.9 356.0 1117.2 358.4 1117.5 360.9 1117.8 363.4 1118.1 365.9 1118.4 368.3 1118.8 370.8 1119.1 373.3 1119.4 375.7 1119.7 378.2 1120.0 380.7 1120.3 383.2 1120.6 385.6 1120.9 388.1 1121.2 390.6 1121.5 393.1 1121.8 395.5 1122.1 398.0 1122.4 400.5 1122.7 403.0 1123.0 405.4 1123.3 407.9 1123.6 410.4 1123.9 412.9 1124.2 415.4 1124.5 417.8 1124.8 420.3 1125.1 422.8 1125.4 425.3 1125.7 427.7 1126.0 430.2 1126.3 432.7 1126.6 435.2 1126.9 437.7 1127.2 440.1 1127.5 442.6 1127.7 445.1 1128.0 447.6 1128.3 450.1 1128.6 452.5 1128.9 455.0 1129.2 457.5 1129.5 460.0 1129.8 462.5 1130.1 465.0 1130.4 467.4 1130.7 469.9 1131.0 472.4 1131.2 474.9 1131.5 477.4 1131.8 479.9 1132.1 482.3 1132.4 484.8 1132.7 487.3 1133.0 489.8 1133.3 492.3 1133.6 494.8 1133.9 497.3 1134.1 499.7 1134.4 502.2 1134.7 504.7 1135.0 507.2 1135.3 509.7 1135.6 512.2 1135.9 514.6 1136.2 517.1 1136.5 519.6 1136.7 522.1 1137.0 524.6 1137.3 527.1 1137.6 529.6 1137.9 532.1 1138.2 534.5 1138.5 537.0 1138.8 539.5 1139.1 542.0 1139.4 544.5 1139.6 547.0 1139.9 549.5 1140.2 551.9 1140.5 554.4 1140.8 556.9 1141.1 559.4 1141.4 561.9 1141.7 564.4 1142.0 566.9 1142.3 569.4 1142.6 571.8 1142.9 574.3 1143.2 576.8 1143.5 579.3 1143.7 581.8 1144.0 584.3 1144.3 586.8 1144.6 589.2 1144.9 591.7 1145.2 594.2 1145.5 596.7 1145.8 599.2 1146.1 601.7 1146.4 604.2 1146.7 606.6 1147.0 609.1 1147.3 611.6 1147.6 614.1 1147.9 616.6 1148.2 619.1 1148.5 621.6 1148.8 624.0 1149.1 626.5 1149.4 629.0 1149.7 631.5 1150.1 634.0 1150.4 636.5 1150.7 639.0 1151.0 641.4 1151.3 643.9 1151.6 646.4 1151.9 648.9 1152.2 651.4 1152.5 653.9 1152.8 656.3 1153.2 658.8 1153.5 661.3 1153.8 663.8 1154.1 666.3 1154.4 668.8 1154.7 671.2 1155.0 673.7 1155.4 676.2 1155.7 678.7 1156.0 681.2 1156.3 683.7 1156.7 686.1 1157.0 688.6 1157.3 691.1 1157.6 693.6 1158.0 696.1 1158.3 698.5 1158.6 701.0 1158.9 703.5 1159.3 706.0 1159.6 708.5 1159.9 710.9 1160.3 713.4 1160.6 715.9 1160.9 718.4 1161.3 720.8 1161.6 723.3 1162.0 725.8 1162.3 728.3 1162.6 730.7 1163.0 733.2 1163.3 735.7 1163.7 738.2 1164.0 740.7 1164.4 743.1 1164.7 745.6 1165.1 748.1 1165.4 750.6 1165.8 753.0 1166.1 755.5 1166.5 758.0 1166.8 760.4 1167.2 762.9 1167.5 765.4 1167.9 767.9 1168.3 770.3 1168.6 772.8 1169.0 775.3 1169.4 777.7 1169.7 780.2 1170.1 782.7 1170.5 785.2 1170.8 787.6 1171.2 790.1 1171.6 792.6 1172.0 795.0 1172.3 797.5 1172.7 800.0 1173.1 802.4 1173.5 804.9 1173.8 807.4 1174.2 809.8 1174.6 812.3 1175.0 814.8 1175.4 817.2 1175.8 819.7 1176.2 822.2 1176.6 824.6 1177.0 827.1 1177.4 829.6 1177.8 832.0 1178.2 834.5 1178.6 837.0 1179.0 839.4 1179.4 841.9 1179.8 844.4 1180.2 846.8 1180.6 849.3 1181.0 851.7 1181.4 854.2 1181.8 856.7 1182.2 859.1 1182.7 861.6 1183.1 864.1 1183.5 866.5 1183.9 869.0 1184.4 871.4 1184.8 873.9 1185.2 876.4 1185.6 878.8 1186.1 881.3 1186.5 883.7 1186.9 886.2 1187.4 888.6 1187.8 891.1 1188.3 893.6 1188.7 896.0 1189.2 898.5 1189.6 900.9 1190.1 903.4 1190.5 905.8 1191.0 908.3 1191.4 910.8 1191.9 913.2 1192.3 915.7 1192.8 918.1 1193.3 920.6 1193.7 923.0 1194.2 925.5 1194.7 927.9 1195.1 930.4 1195.6 932.8 1196.1 935.3 1196.6 937.7 1197.0 940.2 1197.5 942.6 1198.0 945.1 1198.5 947.5 1199.0 950.0 1199.5 952.4 1200.0 954.9 1200.5 957.3 1201.0 959.8 1201.5 962.2 1202.0 964.7 1202.5 967.1 1203.0 969.6 1203.5 972.0 1204.0 974.5 1204.5 976.9 1205.0 979.4 1205.5 981.8 1206.0 984.3 1206.6 986.7 1207.1 989.2 1207.6 991.6 1208.1 994.1 1208.7 996.5 1209.2 998.9 1209.7 1001.4 1210.3 1003.8 1210.8 1006.3 1211.4 1008.7 1211.9 1011.2 1212.5 1013.6 1213.0 1016.0 1213.6 1018.5 1214.1 1020.9 1214.7 1023.4 1215.2 1025.8 1215.8 1028.2 1216.4 1030.7 1216.9 1033.1 1217.5 1035.6 1218.1 1038.0 1218.7 1040.4 1219.2 1042.9 1219.8 1045.3 1220.4 1047.7 1221.0 1050.2 1221.6 1052.6 1222.2 1055.1 1222.8 1057.5 1223.4 1059.9 1224.0 1062.4 1224.6 1064.8 1225.2 1067.2 1225.8 1069.7 1226.4 1072.1 1227.0 1074.5 1227.6 1076.9 1228.3 1079.4 1228.9 1081.8 1229.5 1084.2 1230.2 1086.6 1230.8 1089.1 1231.4 1091.5 1232.1 1093.9 1232.7 1096.3 1233.4 1098.8 1234.0 1101.2 1234.7 1103.6 1235.3 1106.0 1236.0 1108.4 1236.6 1110.9 1237.3 1113.3 1238.0 1115.7 1238.7 1118.1 1239.3 1120.5 1240.0 1122.9 1240.7 1125.3 1241.4 1127.7 1242.1 1130.1 1242.8 1132.6 1243.5 1135.0 1244.2 1137.4 1244.9 1139.8 1245.6 1142.2 1246.3 1144.6 1247.0 1147.0 1247.8 1149.4 1248.5 1151.8 1249.2 1154.2 1249.9 1156.6 1250.7 1159.0 1251.4 1161.3 1252.2 1163.7 1252.9 1166.1 1253.7 1168.5 1254.4 1170.9 1255.2 1173.3 1255.9 1175.7 1256.7 1178.0 1257.5 1180.4 1258.3 1182.8 1259.0 1185.2 1259.8 1187.6 1260.6 1189.9 1261.4 1192.3 1262.2 1194.7 1263.0 1197.1 1263.8 1199.4 1264.6 1201.8 1265.4 1204.2 1266.2 1206.5 1267.1 1208.9 1267.9 1211.2 1268.7 1213.6 1269.6 1215.9 1270.4 1218.3 1271.3 1220.7 1272.1 1223.0 1273.0 1225.4 1273.8 1227.7 1274.7 1230.0 1275.5 1232.4 1276.4 1234.7 1277.3 1237.1 1278.2 1239.4 1279.1 1241.7 1279.9 1244.1 1280.8 1246.4 1281.7 1248.7 1282.6 1251.1 1283.6 1253.4 1284.5 1255.7 1285.4 1258.0 1286.3 1260.4 1287.2 1262.7 1288.2 1265.0 1289.1 1267.3 1290.1 1269.6 1291.0 1271.9 1292.0 1274.2 1292.9 1276.5 1293.9 1278.8 1294.8 1281.1 1295.8 1283.4 1296.8 1285.7 1297.8 1288.0 1298.8 1290.3 1299.8 1292.6 1300.8 1294.9 1301.8 1297.2 1302.8 1299.5 1303.8 1301.7 1304.8 1304.0 1305.8 1306.3 1306.9 1308.6 1307.9 1310.8 1309.0 1313.1 1310.0 1315.4 1311.1 1317.6 1312.1 1319.9 1313.2 1322.1 1314.2 1324.4 1315.3 1326.7 1316.4 1328.9 1317.5 1331.1 1318.6 1333.4 1319.7 1335.6 1320.8 1337.9 1321.9 1340.1 1323.0 1342.3 1324.1 1344.6 1325.3 1346.8 1326.4 1349.0 1327.6 1351.2 1328.7 1353.4 1329.9 1355.6 1331.1 1357.8 1332.3 1360.0 1333.5 1362.2 1334.7 1364.3 1335.9 1366.5 1337.2 1368.7 1338.5 1370.8 1339.7 1372.9 1341.0 1375.0 1342.3 1377.2 1343.7 1379.3 1345.0 1381.4 1346.4 1383.4 1347.7 1385.5 1349.1 1387.6 1350.6 1389.6 1352.0 1391.6 1353.4 1393.6 1354.9 1395.6 1356.4 1397.6 1357.9 1399.6 1359.5 1401.6 1361.0 1403.5 1362.6 1405.4 1364.2 1407.3 1365.9 1409.2 1367.5 1411.1 1369.2 1412.9 1370.9 1414.8 1372.7 1416.6 1374.4 1418.4 1376.2 1420.2 1378.0 1422.0 1379.8 1423.7 1381.7 1425.4 1383.5 1427.1 1385.4 1428.8 1387.3 1430.5 1389.3 1432.2 1391.2 1433.8 1393.2 1435.4 1395.1 1437.0 1397.1 1438.6 1399.1 1440.1 1401.2 1441.7 1403.2 1443.2 1405.2 1444.7 1407.3 1446.1 1409.4 1447.6 1411.5 1449.0 1413.6 1450.4 1415.7 1451.8 1417.8 1453.2 1420.0 1454.5 1422.1 1455.8 1424.3 1457.2 1426.4 1458.4 1428.6 1459.7 1430.8 1460.9 1433.0 1462.1 1435.2 1463.3 1437.4 1464.5 1439.6 1465.6 1441.8 1466.7 1444.0 1467.8 1446.3 1468.9 1448.5 1470.0 1450.7 1471.0 1453.0 1472.0 1455.2 1473.0 1457.5 1473.9 1459.7 1474.9 1462.0 1475.8 1464.3 1476.7 1466.6 1477.5 1468.9 1478.4 1471.2 1479.2 1473.5 1480.0 1475.9 1480.8 1478.2 1481.6 1480.6 1482.3 1483.0 1483.0 1485.3 1483.7 1487.7 1484.4 1490.2 1485.0 1492.6 1485.7 1495.0 1486.3 1497.5 1486.9 1500.0 1487.4 1502.5 1488.0 1505.0 1488.5 1507.5 1489.0 1510.0 1489.4 1512.6 1489.8 1515.1 1490.0 1517.6 1490.2 1520.2 1490.2 1522.7 1490.1 1525.2 1489.9 1527.7 1489.5 1530.2 1489.1 1532.7 1488.7 1535.2 1488.4 1537.7 1488.1 1540.2 1488.0 1542.6 1488.1 1545.1 1488.5 1547.5 1489.1 1549.9 1490.0 1552.4 1491.1 1554.8 1492.4 1557.2 1493.7 1559.5 1495.0 1561.9 1496.2 1564.2 1497.3 1566.5 1498.2 1568.8 1498.8 1571.1 1499.1 1573.3 1499.0 1575.5 1498.4 1577.7 1497.4 1579.9 1496.1 1582.0 1494.6 1584.1 1492.9 1586.3 1491.1 1588.4 1489.3 1590.5 1487.6 1592.6 1485.9 1594.6 1484.5 1596.7 1483.4 1598.8 1482.4 1600.9 1481.8 1603.0 1481.4 1605.0 1481.4 1607.0 1481.6 1609.0 1482.2 1611.0 1483.1 1612.9 1484.3 1614.7 1485.9 1616.5 1487.9 1618.3 1490.2 1620.0 1492.7 1621.8 1495.5 1623.5 1498.2 1625.3 1501.0 1627.1 1503.6 1629.0 1506.0 1630.9 1508.1 1633.0 1509.8 1635.1 1511.1 1637.4 1512.0 1639.6 1512.5 1641.9 1512.7 1644.2 1512.5 1646.5 1512.1 1648.7 1511.4 1650.8 1510.5 1652.8 1509.3 1654.7 1508.0 1656.4 1506.5 1658.0 1504.9 1659.5 1503.1 1660.8 1501.2 1662.1 1499.1 1663.2 1497.0 1664.2 1494.7 1665.2 1492.3 1666.1 1489.9 1666.9 1487.4 1667.6 1484.9 1668.3 1482.3 1669.0 1479.7 1669.6 1477.0 1670.1 1474.4 1670.7 1471.7 1671.2 1469.0 1671.7 1466.4 1672.3 1463.8 1672.8 1461.2 1673.3 1458.7 1673.9 1456.3 1674.5 1453.9 1675.2 1451.6 1675.9 1449.4 1676.7 1447.3 1677.5 1445.2 1678.5 1443.1 1679.6 1441.0 1680.9 1438.7 1682.3 1436.4 1683.9 1433.9 1685.7 1431.5 1687.6 1429.2 1689.5 1427.3 1691.4 1426.0 1693.3 1425.3 1695.1 1425.2 1696.9 1425.5 1698.6 1426.4 1700.2 1427.6 1701.8 1429.2 1703.4 1431.1 1704.9 1433.3 1706.3 1435.6 1707.7 1438.1 1709.0 1440.6 1710.3 1443.2 1711.5 1445.8 1712.6 1448.3 1713.7 1450.8 1714.7 1453.3 1715.7 1455.8 1716.7 1458.2 1717.6 1460.6 1718.5 1463.0 1719.4 1465.3 1720.3 1467.6 1721.1 1469.9 1722.0 1472.2 1722.9 1474.4 1723.8 1476.7 1724.7 1478.9 1725.6 1481.0 1726.6 1483.2 1727.6 1485.3 1728.6 1487.4 1729.7 1489.5 1730.8 1491.6 1732.0 1493.6 1733.3 1495.6 1734.6 1497.6 1736.0 1499.6 1737.4 1501.5 1738.9 1503.5 1740.5 1505.4 1742.1 1507.3 1743.8 1509.2 1745.6 1511.1 1747.4 1512.9 1749.2 1514.8 1751.1 1516.6 1753.1 1518.4 1755.1 1520.2 1757.1 1522.0 1759.2 1523.8 1761.4 1525.6 1763.5 1527.3 1765.7 1528.9 1767.9 1530.4 1770.2 1531.8 1772.4 1532.9 1774.6 1533.9 1776.7 1534.6 1778.9 1535.0 1781.0 1535.1 1783.0 1534.9 1785.0 1534.3 1786.9 1533.4 1788.8 1532.3 1790.6 1530.9 1792.3 1529.2 1794.0 1527.4 1795.5 1525.4 1797.0 1523.2 1798.4 1521.0 1799.7 1518.6 1801.0 1516.2 1802.1 1513.7 1803.1 1511.2 1804.0 1508.6 1804.8 1506.1 1805.5 1503.7 1806.2 1501.2 1806.7 1498.7 1807.2 1496.3 1807.7 1493.8 1808.0 1491.3 1808.4 1488.9 1808.7 1486.5 1809.0 1484.0 1809.3 1481.6 1809.6 1479.1 1809.9 1476.7 1810.2 1474.3 1810.5 1471.8 1810.8 1469.4 1811.1 1466.9 1811.4 1464.5 1811.7 1462.0 1812.1 1459.6 1812.4 1457.1 1812.7 1454.7 1813.1 1452.2 1813.4 1449.8 1813.8 1447.3 1814.1 1444.9 1814.5 1442.4 1814.8 1439.9 1815.2 1437.5 1815.5 1435.0 1815.9 1432.5 1816.2 1430.0 1816.6 1427.6 1816.9 1425.1 1817.3 1422.6 1817.6 1420.1 1818.0 1417.6 1818.3 1415.1 1818.7 1412.6 1819.0 1410.2 1819.3 1407.6 1819.7 1405.1 1820.0 1402.6 1820.3 1400.1 1820.6 1397.6 1820.9 1395.1 1821.2 1392.6 1821.5 1390.1 1821.8 1387.5 1822.1 1385.0 1822.4 1382.5 1822.7 1380.0 1822.9 1377.5 1823.2 1375.0 1823.4 1372.4 1823.7 1369.9 1823.9 1367.4 1824.2 1364.9 1824.4 1362.4 1824.7 1359.9 1824.9 1357.4 1825.1 1354.9 1825.3 1352.4 1825.5 1349.9 1825.7 1347.5 1825.9 1345.0 1826.1 1342.5 1826.3 1340.1 1826.5 1337.6 1826.6 1335.2 1826.8 1332.7 1827.0 1330.3 1827.1 1327.9 1827.2 1325.4 1827.4 1323.0 1827.5 1320.6 1827.6 1318.2 1827.8 1315.9 1827.9 1313.5 1828.0 1311.1 1828.1 1308.7 1828.2 1306.4 1828.4 1304.0 1828.6 1301.5 1828.9 1299.1 1829.1 1296.6 1829.5 1294.0 1829.9 1291.4 1830.3 1288.8 1830.9 1286.0 1831.5 1283.3 1832.2 1280.4 1833.0 1277.4 1833.9 1274.4 1834.9 1271.4 1836.0 1268.7 1837.1 1266.3 1838.3 1264.4 1839.4 1263.2 1840.6 1262.8 1841.8 1263.3 1842.9 1264.5 1844.0 1266.5 1845.0 1268.9 1846.0 1271.6 1847.0 1274.6 1847.8 1277.6 1848.6 1280.6 1849.3 1283.5 1850.0 1286.3 1850.5 1289.0 1851.0 1291.7 1851.5 1294.3 1851.9 1296.9 1852.2 1299.5 1852.5 1302.0 1852.8 1304.4 1853.0 1306.8 1853.2 1309.2 1853.4 1311.6 1853.5 1314.0 1853.7 1316.3 1853.8 1318.7 1853.9 1321.0 1854.0 1323.3 1854.1 1325.7 1854.2 1328.0 1854.3 1330.4 1854.4 1332.7 1854.6 1335.1 1854.7 1337.5 1854.9 1340.0 1855.1 1342.4 1855.3 1344.9 1855.5 1347.4 1855.8 1349.9 1856.0 1352.5 1856.3 1355.0 1856.6 1357.6 1856.8 1360.1 1857.1 1362.7 1857.4 1365.2 1857.6 1367.8 1857.9 1370.4 1858.2 1372.9 1858.4 1375.5 1858.7 1378.0 1858.9 1380.6 1859.2 1383.1 1859.4 1385.6 1859.7 1388.1 1859.9 1390.7 1860.1 1393.2 1860.3 1395.7 1860.5 1398.2 1860.8 1400.7 1861.0 1403.2 1861.2 1405.7 1861.4 1408.2 1861.6 1410.6 1861.8 1413.1 1861.9 1415.6 1862.1 1418.1 1862.3 1420.6 1862.5 1423.0 1862.7 1425.5 1862.9 1428.0 1863.1 1430.4 1863.2 1432.9 1863.4 1435.4 1863.6 1437.8 1863.8 1440.3 1863.9 1442.8 1864.1 1445.2 1864.3 1447.7 1864.5 1450.2 1864.7 1452.6 1864.8 1455.1 1865.0 1457.6 1865.2 1460.1 1865.4 1462.5 1865.6 1465.0 1865.8 1467.5 1866.0 1470.0 1866.2 1472.4 1866.4 1474.9 1866.6 1477.4 1866.8 1479.9 1867.0 1482.4 1867.2 1484.9 1867.4 1487.4 1867.6 1489.9 1867.8 1492.4 1868.0 1494.9 1868.2 1497.4 1868.4 1499.9 1868.7 1502.4 1868.9 1504.9 1869.1 1507.4 1869.3 1509.9 1869.5 1512.4 1869.8 1514.9 1870.0 1517.4 1870.2 1519.9 1870.5 1522.4 1870.7 1524.9 1870.9 1527.5 1871.1 1530.0 1871.4 1532.5 1871.6 1535.0 1871.8 1537.5 1872.1 1540.0 1872.3 1542.5 1872.5 1545.0 1872.8 1547.5 1873.0 1550.0 1873.3 1552.6 1873.5 1555.1 1873.7 1557.6 1874.0 1560.1 1874.2 1562.6 1874.4 1565.1 1874.7 1567.6 1874.9 1570.1 1875.1 1572.6 1875.4 1575.1 1875.6 1577.6 1875.8 1580.1 1876.1 1582.6 1876.3 1585.0 1876.5 1587.5 1876.8 1590.0 1877.0 1592.5 1877.2 1595.0 1877.4 1597.5 1877.7 1599.9 1877.9 1602.4 1878.1 1604.9 1878.3 1607.4 1878.6 1609.8 1878.8 1612.3 1879.0 1614.7 1879.2 1617.2 1879.4 1619.6 1879.6 1622.1 1879.9 1624.5 1880.1 1627.0 1880.3 1629.4 1880.5 1631.9 1880.7 1634.3 1880.9 1636.7 1881.1 1639.1 1881.3 1641.6 1881.5 1644.0 1881.7 1646.4 1881.9 1648.8 1882.1 1651.3 1882.4 1653.7 1882.7 1656.2 1882.9 1658.6 1883.3 1661.1 1883.6 1663.7 1884.0 1666.2 1884.4 1668.8 1884.9 1671.4 1885.4 1674.0 1886.0 1676.7 1886.6 1679.4 1887.3 1682.2 1888.0 1685.0 1888.8 1687.8 1889.7 1690.7 1890.6 1693.4 1891.7 1696.1 1892.8 1698.5 1894.0 1700.6 1895.4 1702.4 1896.8 1703.7 1898.4 1704.6 1900.1 1704.9 1901.9 1704.5 1903.8 1703.7 1905.8 1702.3 1907.7 1700.6 1909.6 1698.5 1911.5 1696.2 1913.1 1693.7 1914.6 1691.1 1915.9 1688.6 1917.0 1686.0 1917.8 1683.4 1918.5 1680.9 1919.2 1678.4 1919.7 1676.0 1920.2 1673.5 1920.7 1671.2 1921.2 1668.9 1921.8 1666.6 1922.4 1664.4 1923.1 1662.2 1923.8 1660.0 1924.5 1657.7 1925.2 1655.4 1925.8 1653.0 1926.4 1650.5 1927.0 1647.9 1927.6 1645.3 1928.2 1642.7 1928.8 1640.1 1929.5 1637.5 1930.2 1634.9 1931.1 1632.4 1932.0 1630.0 1933.1 1627.7 1934.3 1625.5 1935.7 1623.4 1937.2 1621.5 1939.0 1619.8 1940.9 1618.2 1943.0 1616.9 1945.2 1615.9 1947.5 1615.2 1949.8 1614.8 1952.1 1614.8 1954.4 1615.2 1956.5 1616.0 1958.6 1617.3 1960.6 1619.1 1962.4 1621.1 1964.2 1623.4 1965.9 1625.9 1967.6 1628.4 1969.2 1630.8 1970.9 1633.2 1972.6 1635.4 1974.3 1637.2 1976.0 1638.8 1977.8 1640.0 1979.6 1640.8 1981.4 1641.2 1983.3 1641.2 1985.2 1640.7 1987.1 1639.6 1989.1 1638.1 1991.1 1636.0 1993.1 1633.6 1995.1 1631.2 1997.1 1629.0 1999.1 1627.4 2001.0 1626.4" stroke="#000000"/>
</g>
<g id="ticklabels">
<text transform="matrix(0.8298 0 0 0.8686 43.68 1769.03)" font-size="100">5</text>
<text transform="matrix(0.8172 0 0 0.8732 393.36 1769.03)" font-size="100">10</text>
<text transform="matrix(0.8202 0 0 0.8857 764.34 1769.01)" font-size="100">15</text>
<text transform="matrix(0.8637 0 0 0.8732 1130.68 1769.03)" font-size="100">20</text>
<text transform="matrix(0.8657 0 0 0.8732 1501.47 1769.03)" font-size="100">25</text>
<text transform="matrix(0.8369 0 0 0.8732 1875.55 1769.03)" font-size="100">30</text>
</g>
<g id="onefoot" fill="#fff">
<rect x="398.38" y="1761.91" width="15.27" height="8.32"/>
<rect x="421.38" y="1761.91" width="14.69" height="8.32"/>
<rect x="769.39" y="1761.79" width="15.33" height="8.42"/>
<rect x="792.46" y="1761.79" width="14.74" height="8.42"/>
</g>
<g id="xtitle">
<text transform="matrix(1.0190 0 0 1.0389 572.85 1929.90)" font-size="100">Retention time (min)</text>
</g>
<g id="legend">
<rect x="1332" y="125" width="228" height="9" fill="#000"/>
<rect x="1332" y="252" width="228" height="9" fill="#f00"/>
<rect x="1332" y="380" width="228" height="9" fill="#00f"/>
<rect x="1332" y="507" width="228" height="9" fill="#0f0"/>
<text transform="matrix(1.0413 0 0 1.0841 1587.67 165.00)" font-size="100">PDTA-HE</text>
<text transform="matrix(1.0413 0 0 1.0826 1587.67 292.90)" font-size="100">PDTA-DE</text>
<text transform="matrix(1.0461 0 0 1.0942 1587.63 420.30)" font-size="100">PDTA-DI</text>
<text transform="matrix(1.0410 0 0 1.0942 1587.67 548.30)" font-size="100">PDTA-TH</text>
</g>
<g id="mn">
<text transform="matrix(1.0512 0 0 1.0855 176.75 571.80)" font-size="100" font-style="italic">M</text>
<text transform="matrix(0.6667 0 0 0.7037 259.33 599.80)" font-size="100">n</text>
<text transform="matrix(1.0119 0 0 1.0797 296.94 571.50)" font-size="100">=42,200Da</text>
<text transform="matrix(1.0525 0 0 1.0870 168.64 715.80)" font-size="100" font-style="italic">M</text>
<text transform="matrix(0.6643 0 0 0.7037 250.35 743.80)" font-size="100">n</text>
<text transform="matrix(1.0123 0 0 1.0783 288.74 715.30)" font-size="100">=38,600Da</text>
<text transform="matrix(1.0487 0 0 1.0855 168.65 863.90)" font-size="100" font-style="italic">M</text>
<text transform="matrix(0.6690 0 0 0.7130 251.02 892.00)" font-size="100">n</text>
<text transform="matrix(1.0103 0 0 1.0812 289.75 863.80)" font-size="100">=36,700Da</text>
<text transform="matrix(1.0488 0 0 1.0841 167.95 1000.70)" font-size="100" font-style="italic">M</text>
<text transform="matrix(0.6762 0 0 0.7074 249.97 1028.90)" font-size="100">n</text>
<text transform="matrix(1.0125 0 0 1.0812 287.74 1000.60)" font-size="100">=34,200Da</text>
</g>
<g id="mnlines" fill="#000">
<rect x="843" y="531" width="182" height="9"/>
<rect x="843" y="684" width="191" height="9"/>
<rect x="837" y="824" width="200" height="9"/>
<rect x="831" y="962" width="219" height="9"/>
</g>
</svg>
</body></html>
